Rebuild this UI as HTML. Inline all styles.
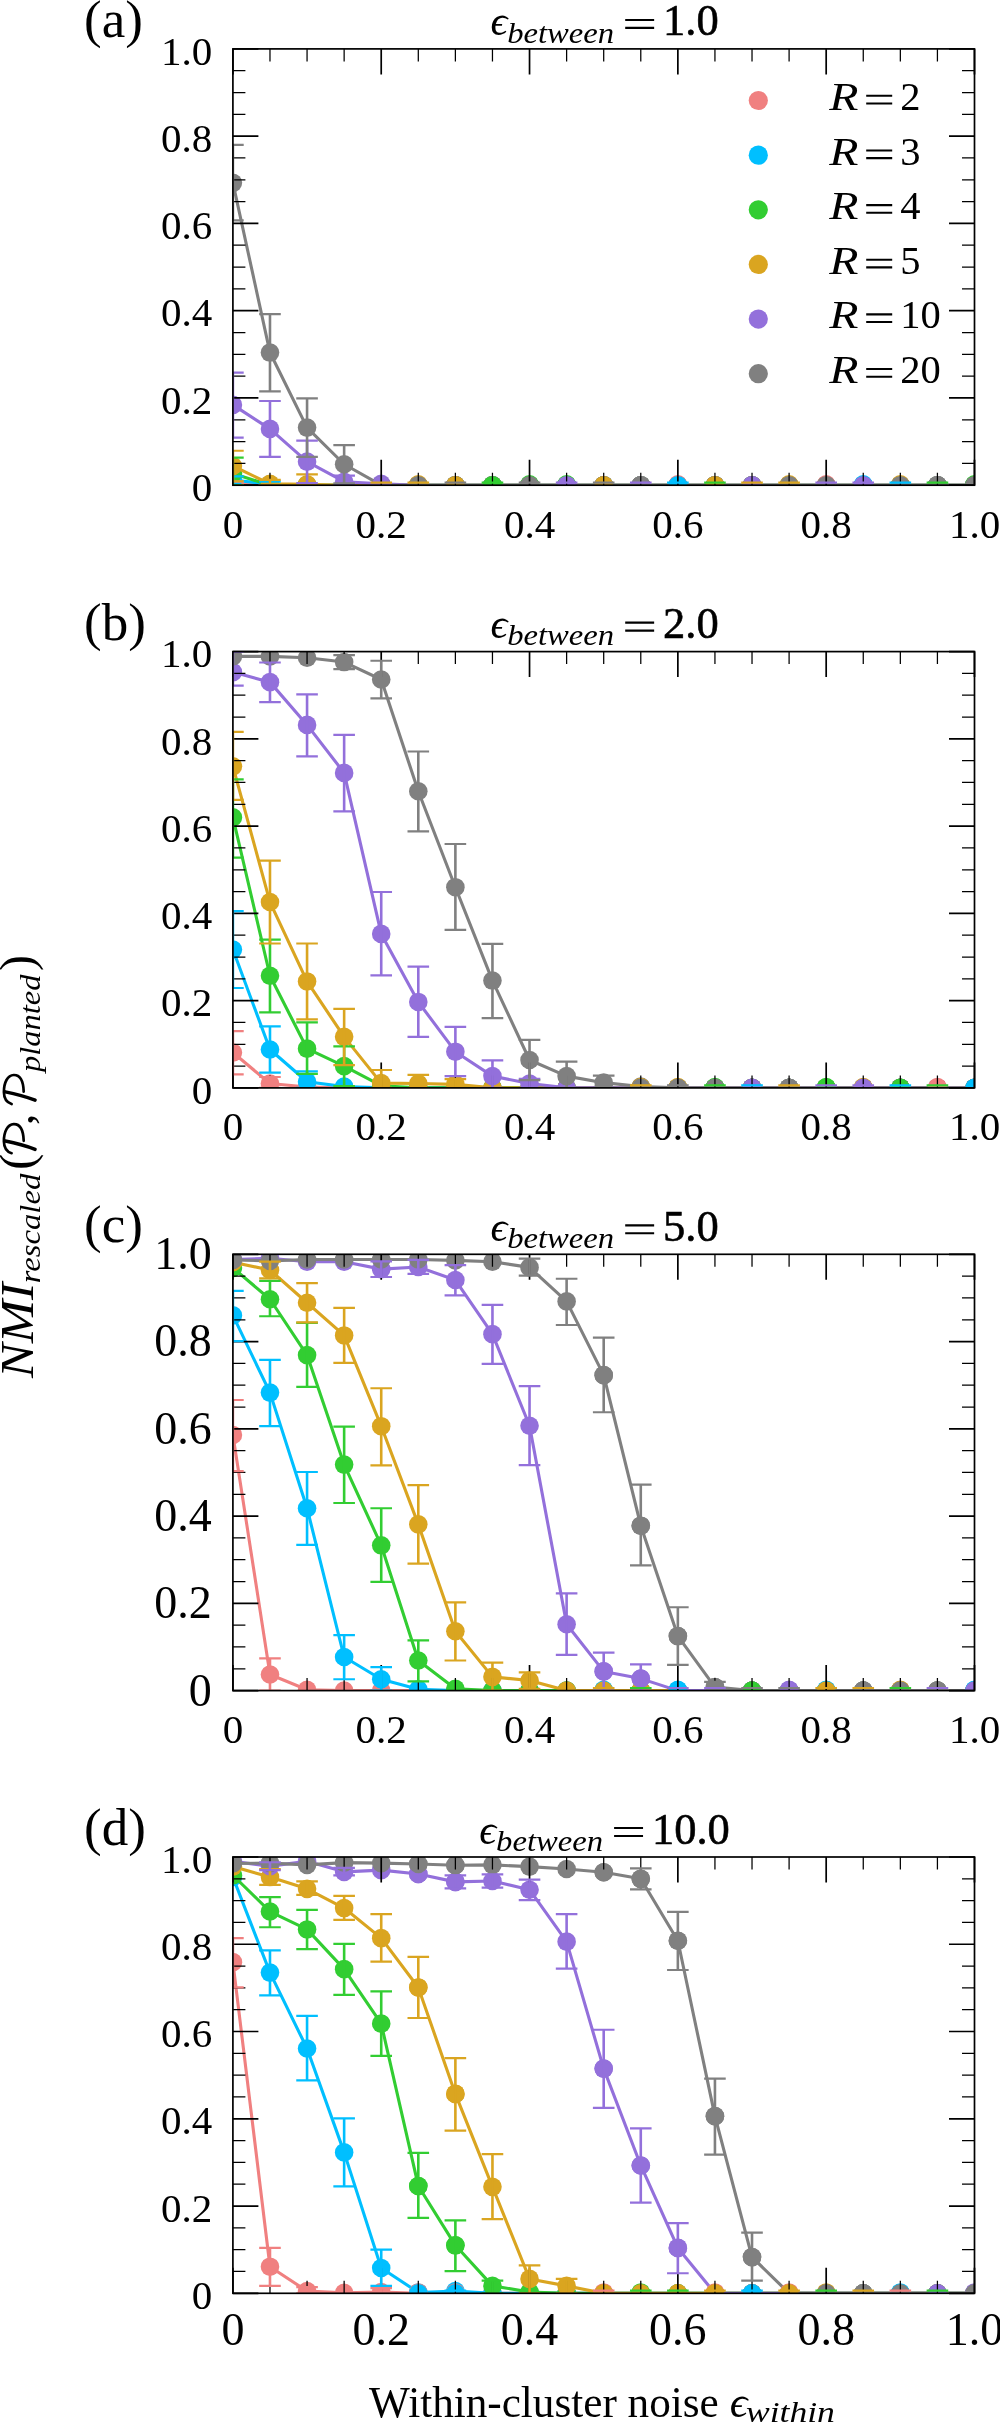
<!DOCTYPE html><html><head><meta charset="utf-8"><style>html,body{margin:0;padding:0;background:#fff;width:1000px;height:2424px;overflow:hidden}svg{display:block;will-change:transform}</style></head><body>
<svg width="1000" height="2424" viewBox="0 0 1000 2424">
<rect width="1000" height="2424" fill="#fff"/>
<defs><clipPath id="c0"><rect x="232.9" y="48.9" width="741.6" height="436.3"/></clipPath></defs>
<g clip-path="url(#c0)">
<polyline points="232.9,483.89 269.98,485.2 307.06,485.2 344.14,485.2 381.22,485.2 418.3,485.2 455.38,485.2 492.46,485.2 529.54,485.2 566.62,485.2 603.7,485.2 640.78,485.2 677.86,485.2 714.94,485.2 752.02,485.2 789.1,485.2 826.18,485.2 863.26,485.2 900.34,485.2 937.42,485.2 974.5,485.2" fill="none" stroke="#F08080" stroke-width="3.1" stroke-linejoin="round"/>
<g fill="#F08080"><circle cx="232.9" cy="483.89" r="9.3"/><circle cx="269.98" cy="485.2" r="9.3"/><circle cx="307.06" cy="485.2" r="9.3"/><circle cx="344.14" cy="485.2" r="9.3"/><circle cx="381.22" cy="485.2" r="9.3"/><circle cx="418.3" cy="485.2" r="9.3"/><circle cx="455.38" cy="485.2" r="9.3"/><circle cx="492.46" cy="485.2" r="9.3"/><circle cx="529.54" cy="485.2" r="9.3"/><circle cx="566.62" cy="485.2" r="9.3"/><circle cx="603.7" cy="485.2" r="9.3"/><circle cx="640.78" cy="485.2" r="9.3"/><circle cx="677.86" cy="485.2" r="9.3"/><circle cx="714.94" cy="485.2" r="9.3"/><circle cx="752.02" cy="485.2" r="9.3"/><circle cx="789.1" cy="485.2" r="9.3"/><circle cx="826.18" cy="485.2" r="9.3"/><circle cx="863.26" cy="485.2" r="9.3"/><circle cx="900.34" cy="485.2" r="9.3"/><circle cx="937.42" cy="485.2" r="9.3"/><circle cx="974.5" cy="485.2" r="9.3"/></g>
<polyline points="232.9,479.96 269.98,484.33 307.06,485.2 344.14,485.2 381.22,485.2 418.3,485.2 455.38,485.2 492.46,485.2 529.54,485.2 566.62,485.2 603.7,485.2 640.78,485.2 677.86,485.2 714.94,485.2 752.02,485.2 789.1,485.2 826.18,485.2 863.26,485.2 900.34,485.2 937.42,485.2 974.5,485.2" fill="none" stroke="#00BFFF" stroke-width="3.1" stroke-linejoin="round"/>
<g fill="#00BFFF"><circle cx="232.9" cy="479.96" r="9.3"/><circle cx="269.98" cy="484.33" r="9.3"/><circle cx="307.06" cy="485.2" r="9.3"/><circle cx="344.14" cy="485.2" r="9.3"/><circle cx="381.22" cy="485.2" r="9.3"/><circle cx="418.3" cy="485.2" r="9.3"/><circle cx="455.38" cy="485.2" r="9.3"/><circle cx="492.46" cy="485.2" r="9.3"/><circle cx="529.54" cy="485.2" r="9.3"/><circle cx="566.62" cy="485.2" r="9.3"/><circle cx="603.7" cy="485.2" r="9.3"/><circle cx="640.78" cy="485.2" r="9.3"/><circle cx="677.86" cy="485.2" r="9.3"/><circle cx="714.94" cy="485.2" r="9.3"/><circle cx="752.02" cy="485.2" r="9.3"/><circle cx="789.1" cy="485.2" r="9.3"/><circle cx="826.18" cy="485.2" r="9.3"/><circle cx="863.26" cy="485.2" r="9.3"/><circle cx="900.34" cy="485.2" r="9.3"/><circle cx="937.42" cy="485.2" r="9.3"/><circle cx="974.5" cy="485.2" r="9.3"/></g>
<polyline points="232.9,473.42 269.98,485.2 307.06,485.2 344.14,485.2 381.22,485.2 418.3,485.2 455.38,485.2 492.46,485.2 529.54,485.2 566.62,485.2 603.7,485.2 640.78,485.2 677.86,485.2 714.94,485.2 752.02,485.2 789.1,485.2 826.18,485.2 863.26,485.2 900.34,485.2 937.42,485.2 974.5,485.2" fill="none" stroke="#32CD32" stroke-width="3.1" stroke-linejoin="round"/>
<g fill="#32CD32"><circle cx="232.9" cy="473.42" r="9.3"/><circle cx="269.98" cy="485.2" r="9.3"/><circle cx="307.06" cy="485.2" r="9.3"/><circle cx="344.14" cy="485.2" r="9.3"/><circle cx="381.22" cy="485.2" r="9.3"/><circle cx="418.3" cy="485.2" r="9.3"/><circle cx="455.38" cy="485.2" r="9.3"/><circle cx="492.46" cy="485.2" r="9.3"/><circle cx="529.54" cy="485.2" r="9.3"/><circle cx="566.62" cy="485.2" r="9.3"/><circle cx="603.7" cy="485.2" r="9.3"/><circle cx="640.78" cy="485.2" r="9.3"/><circle cx="677.86" cy="485.2" r="9.3"/><circle cx="714.94" cy="485.2" r="9.3"/><circle cx="752.02" cy="485.2" r="9.3"/><circle cx="789.1" cy="485.2" r="9.3"/><circle cx="826.18" cy="485.2" r="9.3"/><circle cx="863.26" cy="485.2" r="9.3"/><circle cx="900.34" cy="485.2" r="9.3"/><circle cx="937.42" cy="485.2" r="9.3"/><circle cx="974.5" cy="485.2" r="9.3"/></g>
<polyline points="232.9,466 269.98,483.89 307.06,484.33 344.14,485.2 381.22,485.2 418.3,485.2 455.38,485.2 492.46,485.2 529.54,485.2 566.62,485.2 603.7,485.2 640.78,485.2 677.86,485.2 714.94,485.2 752.02,485.2 789.1,485.2 826.18,485.2 863.26,485.2 900.34,485.2 937.42,485.2 974.5,485.2" fill="none" stroke="#DAA520" stroke-width="3.1" stroke-linejoin="round"/>
<g fill="#DAA520"><circle cx="232.9" cy="466" r="9.3"/><circle cx="269.98" cy="483.89" r="9.3"/><circle cx="307.06" cy="484.33" r="9.3"/><circle cx="344.14" cy="485.2" r="9.3"/><circle cx="381.22" cy="485.2" r="9.3"/><circle cx="418.3" cy="485.2" r="9.3"/><circle cx="455.38" cy="485.2" r="9.3"/><circle cx="492.46" cy="485.2" r="9.3"/><circle cx="529.54" cy="485.2" r="9.3"/><circle cx="566.62" cy="485.2" r="9.3"/><circle cx="603.7" cy="485.2" r="9.3"/><circle cx="640.78" cy="485.2" r="9.3"/><circle cx="677.86" cy="485.2" r="9.3"/><circle cx="714.94" cy="485.2" r="9.3"/><circle cx="752.02" cy="485.2" r="9.3"/><circle cx="789.1" cy="485.2" r="9.3"/><circle cx="826.18" cy="485.2" r="9.3"/><circle cx="863.26" cy="485.2" r="9.3"/><circle cx="900.34" cy="485.2" r="9.3"/><circle cx="937.42" cy="485.2" r="9.3"/><circle cx="974.5" cy="485.2" r="9.3"/></g>
<polyline points="232.9,404.92 269.98,428.92 307.06,461.64 344.14,481.71 381.22,483.89 418.3,485.2 455.38,485.2 492.46,485.2 529.54,485.2 566.62,485.2 603.7,485.2 640.78,485.2 677.86,485.2 714.94,485.2 752.02,485.2 789.1,485.2 826.18,485.2 863.26,485.2 900.34,485.2 937.42,485.2 974.5,485.2" fill="none" stroke="#9370DB" stroke-width="3.1" stroke-linejoin="round"/>
<g fill="#9370DB"><circle cx="232.9" cy="404.92" r="9.3"/><circle cx="269.98" cy="428.92" r="9.3"/><circle cx="307.06" cy="461.64" r="9.3"/><circle cx="344.14" cy="481.71" r="9.3"/><circle cx="381.22" cy="483.89" r="9.3"/><circle cx="418.3" cy="485.2" r="9.3"/><circle cx="455.38" cy="485.2" r="9.3"/><circle cx="492.46" cy="485.2" r="9.3"/><circle cx="529.54" cy="485.2" r="9.3"/><circle cx="566.62" cy="485.2" r="9.3"/><circle cx="603.7" cy="485.2" r="9.3"/><circle cx="640.78" cy="485.2" r="9.3"/><circle cx="677.86" cy="485.2" r="9.3"/><circle cx="714.94" cy="485.2" r="9.3"/><circle cx="752.02" cy="485.2" r="9.3"/><circle cx="789.1" cy="485.2" r="9.3"/><circle cx="826.18" cy="485.2" r="9.3"/><circle cx="863.26" cy="485.2" r="9.3"/><circle cx="900.34" cy="485.2" r="9.3"/><circle cx="937.42" cy="485.2" r="9.3"/><circle cx="974.5" cy="485.2" r="9.3"/></g>
<polyline points="232.9,182.84 269.98,352.56 307.06,427.61 344.14,464.26 381.22,485.2 418.3,485.2 455.38,485.2 492.46,485.2 529.54,485.2 566.62,485.2 603.7,485.2 640.78,485.2 677.86,485.2 714.94,485.2 752.02,485.2 789.1,485.2 826.18,485.2 863.26,485.2 900.34,485.2 937.42,485.2 974.5,485.2" fill="none" stroke="#808080" stroke-width="3.1" stroke-linejoin="round"/>
<g fill="#808080"><circle cx="232.9" cy="182.84" r="9.3"/><circle cx="269.98" cy="352.56" r="9.3"/><circle cx="307.06" cy="427.61" r="9.3"/><circle cx="344.14" cy="464.26" r="9.3"/><circle cx="381.22" cy="485.2" r="9.3"/><circle cx="418.3" cy="485.2" r="9.3"/><circle cx="455.38" cy="485.2" r="9.3"/><circle cx="492.46" cy="485.2" r="9.3"/><circle cx="529.54" cy="485.2" r="9.3"/><circle cx="566.62" cy="485.2" r="9.3"/><circle cx="603.7" cy="485.2" r="9.3"/><circle cx="640.78" cy="485.2" r="9.3"/><circle cx="677.86" cy="485.2" r="9.3"/><circle cx="714.94" cy="485.2" r="9.3"/><circle cx="752.02" cy="485.2" r="9.3"/><circle cx="789.1" cy="485.2" r="9.3"/><circle cx="826.18" cy="485.2" r="9.3"/><circle cx="863.26" cy="485.2" r="9.3"/><circle cx="900.34" cy="485.2" r="9.3"/><circle cx="937.42" cy="485.2" r="9.3"/><circle cx="974.5" cy="485.2" r="9.3"/></g>
<circle cx="381.22" cy="485.2" r="9.3" fill="#9370DB"/>
<circle cx="418.3" cy="484.33" r="9.3" fill="#DAA520"/>
<circle cx="418.3" cy="485.2" r="9.3" fill="#808080"/>
<circle cx="455.38" cy="485.2" r="9.3" fill="#DAA520"/>
<circle cx="492.46" cy="485.2" r="9.3" fill="#32CD32"/>
<circle cx="529.54" cy="484.33" r="9.3" fill="#32CD32"/>
<circle cx="529.54" cy="485.2" r="9.3" fill="#808080"/>
<circle cx="566.62" cy="484.33" r="9.3" fill="#32CD32"/>
<circle cx="566.62" cy="485.2" r="9.3" fill="#9370DB"/>
<circle cx="603.7" cy="485.2" r="9.3" fill="#DAA520"/>
<circle cx="640.78" cy="485.2" r="9.3" fill="#808080"/>
<circle cx="677.86" cy="484.33" r="9.3" fill="#F08080"/>
<circle cx="677.86" cy="485.2" r="9.3" fill="#00BFFF"/>
<circle cx="714.94" cy="485.2" r="9.3" fill="#DAA520"/>
<circle cx="752.02" cy="485.2" r="9.3" fill="#9370DB"/>
<circle cx="789.1" cy="484.33" r="9.3" fill="#DAA520"/>
<circle cx="789.1" cy="485.2" r="9.3" fill="#808080"/>
<circle cx="826.18" cy="484.33" r="9.3" fill="#F08080"/>
<circle cx="826.18" cy="485.2" r="9.3" fill="#808080"/>
<circle cx="863.26" cy="484.33" r="9.3" fill="#00BFFF"/>
<circle cx="863.26" cy="485.2" r="9.3" fill="#9370DB"/>
<circle cx="900.34" cy="484.33" r="9.3" fill="#DAA520"/>
<circle cx="900.34" cy="485.2" r="9.3" fill="#808080"/>
<circle cx="937.42" cy="485.2" r="9.3" fill="#808080"/>
<circle cx="974.5" cy="484.33" r="9.3" fill="#32CD32"/>
<circle cx="974.5" cy="485.2" r="9.3" fill="#808080"/>
</g>
<path d="M232.9 485.2v-25.5M232.9 48.9v25.5M232.9 485.2h25.5M974.5 485.2h-25.5M381.22 485.2v-25.5M381.22 48.9v25.5M232.9 397.94h25.5M974.5 397.94h-25.5M529.54 485.2v-25.5M529.54 48.9v25.5M232.9 310.68h25.5M974.5 310.68h-25.5M677.86 485.2v-25.5M677.86 48.9v25.5M232.9 223.42h25.5M974.5 223.42h-25.5M826.18 485.2v-25.5M826.18 48.9v25.5M232.9 136.16h25.5M974.5 136.16h-25.5M974.5 485.2v-25.5M974.5 48.9v25.5M232.9 48.9h25.5M974.5 48.9h-25.5" stroke="#000" stroke-width="1.7" fill="none"/>
<path d="M269.98 485.2v-12.5M269.98 48.9v12.5M232.9 463.38h12.5M974.5 463.38h-12.5M307.06 485.2v-12.5M307.06 48.9v12.5M232.9 441.57h12.5M974.5 441.57h-12.5M344.14 485.2v-12.5M344.14 48.9v12.5M232.9 419.75h12.5M974.5 419.75h-12.5M418.3 485.2v-12.5M418.3 48.9v12.5M232.9 376.12h12.5M974.5 376.12h-12.5M455.38 485.2v-12.5M455.38 48.9v12.5M232.9 354.31h12.5M974.5 354.31h-12.5M492.46 485.2v-12.5M492.46 48.9v12.5M232.9 332.5h12.5M974.5 332.5h-12.5M566.62 485.2v-12.5M566.62 48.9v12.5M232.9 288.87h12.5M974.5 288.87h-12.5M603.7 485.2v-12.5M603.7 48.9v12.5M232.9 267.05h12.5M974.5 267.05h-12.5M640.78 485.2v-12.5M640.78 48.9v12.5M232.9 245.23h12.5M974.5 245.23h-12.5M714.94 485.2v-12.5M714.94 48.9v12.5M232.9 201.6h12.5M974.5 201.6h-12.5M752.02 485.2v-12.5M752.02 48.9v12.5M232.9 179.79h12.5M974.5 179.79h-12.5M789.1 485.2v-12.5M789.1 48.9v12.5M232.9 157.97h12.5M974.5 157.97h-12.5M863.26 485.2v-12.5M863.26 48.9v12.5M232.9 114.34h12.5M974.5 114.34h-12.5M900.34 485.2v-12.5M900.34 48.9v12.5M232.9 92.53h12.5M974.5 92.53h-12.5M937.42 485.2v-12.5M937.42 48.9v12.5M232.9 70.71h12.5M974.5 70.71h-12.5" stroke="#000" stroke-width="1.25" fill="none"/>
<g clip-path="url(#c0)">
<path d="M232.9 485.2V481.71" stroke="#F08080" stroke-width="2.6" fill="none"/>
<path d="M222.1 481.71H243.7M222.1 485.2H243.7" stroke="#F08080" stroke-width="2.2" fill="none"/>
<path d="M232.9 485.2V476.47M269.98 485.2V481.71" stroke="#00BFFF" stroke-width="2.6" fill="none"/>
<path d="M222.1 476.47H243.7M222.1 485.2H243.7M259.18 481.71H280.78M259.18 485.2H280.78" stroke="#00BFFF" stroke-width="2.2" fill="none"/>
<path d="M232.9 485.2V457.71" stroke="#32CD32" stroke-width="2.6" fill="none"/>
<path d="M222.1 457.71H243.7M222.1 485.2H243.7" stroke="#32CD32" stroke-width="2.2" fill="none"/>
<path d="M232.9 481.27V450.73M269.98 485.2V479.96M307.06 485.2V474.29" stroke="#DAA520" stroke-width="2.6" fill="none"/>
<path d="M222.1 450.73H243.7M222.1 481.27H243.7M259.18 479.96H280.78M259.18 485.2H280.78M296.26 474.29H317.86M296.26 485.2H317.86" stroke="#DAA520" stroke-width="2.2" fill="none"/>
<path d="M232.9 437.64V372.63M269.98 456.84V400.99M307.06 483.02V440.7M344.14 485.2V475.6" stroke="#9370DB" stroke-width="2.6" fill="none"/>
<path d="M222.1 372.63H243.7M222.1 437.64H243.7M259.18 400.99H280.78M259.18 456.84H280.78M296.26 440.7H317.86M296.26 483.02H317.86M333.34 475.6H354.94M333.34 485.2H354.94" stroke="#9370DB" stroke-width="2.2" fill="none"/>
<path d="M232.9 220.37V144.89M269.98 391.4V314.17M307.06 456.84V398.38M344.14 483.45V445.06" stroke="#808080" stroke-width="2.6" fill="none"/>
<path d="M222.1 144.89H243.7M222.1 220.37H243.7M259.18 314.17H280.78M259.18 391.4H280.78M296.26 398.38H317.86M296.26 456.84H317.86M333.34 445.06H354.94M333.34 483.45H354.94" stroke="#808080" stroke-width="2.2" fill="none"/>
<path d="M370.42 482.58H392.02" stroke="#DAA520" stroke-width="2.2"/>
<path d="M407.5 482.58H429.1" stroke="#DAA520" stroke-width="2.2"/>
<path d="M444.58 482.58H466.18" stroke="#808080" stroke-width="2.2"/>
<path d="M481.66 482.58H503.26" stroke="#32CD32" stroke-width="2.2"/>
<path d="M518.74 482.58H540.34" stroke="#808080" stroke-width="2.2"/>
<path d="M555.82 482.58H577.42" stroke="#9370DB" stroke-width="2.2"/>
<path d="M592.9 482.58H614.5" stroke="#808080" stroke-width="2.2"/>
<path d="M629.98 482.58H651.58" stroke="#9370DB" stroke-width="2.2"/>
<path d="M667.06 482.58H688.66" stroke="#00BFFF" stroke-width="2.2"/>
<path d="M704.14 482.58H725.74" stroke="#32CD32" stroke-width="2.2"/>
<path d="M741.22 482.58H762.82" stroke="#DAA520" stroke-width="2.2"/>
<path d="M778.3 482.58H799.9" stroke="#DAA520" stroke-width="2.2"/>
<path d="M815.38 482.58H836.98" stroke="#9370DB" stroke-width="2.2"/>
<path d="M852.46 482.58H874.06" stroke="#9370DB" stroke-width="2.2"/>
<path d="M889.54 482.58H911.14" stroke="#00BFFF" stroke-width="2.2"/>
<path d="M926.62 482.58H948.22" stroke="#32CD32" stroke-width="2.2"/>
</g>
<rect x="232.9" y="48.9" width="741.6" height="436.3" fill="none" stroke="#000" stroke-width="1.7"/>
<g font-family="Liberation Serif"><text x="232.9" y="537.7" text-anchor="middle" font-size="41">0</text><text x="212.2" y="500.9" text-anchor="end" font-size="41">0</text><text x="381.22" y="537.7" text-anchor="middle" font-size="41">0.2</text><text x="212.2" y="413.64" text-anchor="end" font-size="41">0.2</text><text x="529.54" y="537.7" text-anchor="middle" font-size="41">0.4</text><text x="212.2" y="326.38" text-anchor="end" font-size="41">0.4</text><text x="677.86" y="537.7" text-anchor="middle" font-size="41">0.6</text><text x="212.2" y="239.12" text-anchor="end" font-size="41">0.6</text><text x="826.18" y="537.7" text-anchor="middle" font-size="41">0.8</text><text x="212.2" y="151.86" text-anchor="end" font-size="41">0.8</text><text x="974.5" y="537.7" text-anchor="middle" font-size="41">1.0</text><text x="212.2" y="64.6" text-anchor="end" font-size="41">1.0</text></g>
<text x="84" y="36.9" font-family="Liberation Serif" font-size="53">(a)</text>
<text x="490.4" y="35.4" font-family="Liberation Serif" font-size="42" font-style="italic">&#x3F5;</text>
<text x="507.2" y="42.5" font-family="Liberation Serif" font-size="30" font-style="italic" textLength="107" lengthAdjust="spacingAndGlyphs">between</text>
<path d="M625.2 19.95H654.15M625.2 27.9H654.15" stroke="#000" stroke-width="2.1"/>
<text x="663" y="35.4" font-family="Liberation Serif" font-size="44.5" stroke="#000" stroke-width="0.6">1.0</text>
<defs><clipPath id="c1"><rect x="232.9" y="651.6" width="741.6" height="436.3"/></clipPath></defs>
<g clip-path="url(#c1)">
<polyline points="232.9,1052.56 269.98,1083.54 307.06,1087.03 344.14,1087.9 381.22,1087.9 418.3,1087.9 455.38,1087.9 492.46,1087.9 529.54,1087.9 566.62,1087.9 603.7,1087.9 640.78,1087.9 677.86,1087.9 714.94,1087.9 752.02,1087.9 789.1,1087.9 826.18,1087.9 863.26,1087.9 900.34,1087.9 937.42,1087.9 974.5,1087.9" fill="none" stroke="#F08080" stroke-width="3.1" stroke-linejoin="round"/>
<g fill="#F08080"><circle cx="232.9" cy="1052.56" r="9.3"/><circle cx="269.98" cy="1083.54" r="9.3"/><circle cx="307.06" cy="1087.03" r="9.3"/><circle cx="344.14" cy="1087.9" r="9.3"/><circle cx="381.22" cy="1087.9" r="9.3"/><circle cx="418.3" cy="1087.9" r="9.3"/><circle cx="455.38" cy="1087.9" r="9.3"/><circle cx="492.46" cy="1087.9" r="9.3"/><circle cx="529.54" cy="1087.9" r="9.3"/><circle cx="566.62" cy="1087.9" r="9.3"/><circle cx="603.7" cy="1087.9" r="9.3"/><circle cx="640.78" cy="1087.9" r="9.3"/><circle cx="677.86" cy="1087.9" r="9.3"/><circle cx="714.94" cy="1087.9" r="9.3"/><circle cx="752.02" cy="1087.9" r="9.3"/><circle cx="789.1" cy="1087.9" r="9.3"/><circle cx="826.18" cy="1087.9" r="9.3"/><circle cx="863.26" cy="1087.9" r="9.3"/><circle cx="900.34" cy="1087.9" r="9.3"/><circle cx="937.42" cy="1087.9" r="9.3"/><circle cx="974.5" cy="1087.9" r="9.3"/></g>
<polyline points="232.9,949.59 269.98,1049.51 307.06,1081.79 344.14,1086.59 381.22,1087.9 418.3,1087.9 455.38,1087.9 492.46,1087.9 529.54,1087.9 566.62,1087.9 603.7,1087.9 640.78,1087.9 677.86,1087.9 714.94,1087.9 752.02,1087.9 789.1,1087.9 826.18,1087.9 863.26,1087.9 900.34,1087.9 937.42,1087.9 974.5,1087.9" fill="none" stroke="#00BFFF" stroke-width="3.1" stroke-linejoin="round"/>
<g fill="#00BFFF"><circle cx="232.9" cy="949.59" r="9.3"/><circle cx="269.98" cy="1049.51" r="9.3"/><circle cx="307.06" cy="1081.79" r="9.3"/><circle cx="344.14" cy="1086.59" r="9.3"/><circle cx="381.22" cy="1087.9" r="9.3"/><circle cx="418.3" cy="1087.9" r="9.3"/><circle cx="455.38" cy="1087.9" r="9.3"/><circle cx="492.46" cy="1087.9" r="9.3"/><circle cx="529.54" cy="1087.9" r="9.3"/><circle cx="566.62" cy="1087.9" r="9.3"/><circle cx="603.7" cy="1087.9" r="9.3"/><circle cx="640.78" cy="1087.9" r="9.3"/><circle cx="677.86" cy="1087.9" r="9.3"/><circle cx="714.94" cy="1087.9" r="9.3"/><circle cx="752.02" cy="1087.9" r="9.3"/><circle cx="789.1" cy="1087.9" r="9.3"/><circle cx="826.18" cy="1087.9" r="9.3"/><circle cx="863.26" cy="1087.9" r="9.3"/><circle cx="900.34" cy="1087.9" r="9.3"/><circle cx="937.42" cy="1087.9" r="9.3"/><circle cx="974.5" cy="1087.9" r="9.3"/></g>
<polyline points="232.9,817.39 269.98,975.77 307.06,1048.63 344.14,1066.09 381.22,1085.72 418.3,1087.9 455.38,1087.9 492.46,1087.9 529.54,1087.9 566.62,1087.9 603.7,1087.9 640.78,1087.9 677.86,1087.9 714.94,1087.9 752.02,1087.9 789.1,1087.9 826.18,1087.9 863.26,1087.9 900.34,1087.9 937.42,1087.9 974.5,1087.9" fill="none" stroke="#32CD32" stroke-width="3.1" stroke-linejoin="round"/>
<g fill="#32CD32"><circle cx="232.9" cy="817.39" r="9.3"/><circle cx="269.98" cy="975.77" r="9.3"/><circle cx="307.06" cy="1048.63" r="9.3"/><circle cx="344.14" cy="1066.09" r="9.3"/><circle cx="381.22" cy="1085.72" r="9.3"/><circle cx="418.3" cy="1087.9" r="9.3"/><circle cx="455.38" cy="1087.9" r="9.3"/><circle cx="492.46" cy="1087.9" r="9.3"/><circle cx="529.54" cy="1087.9" r="9.3"/><circle cx="566.62" cy="1087.9" r="9.3"/><circle cx="603.7" cy="1087.9" r="9.3"/><circle cx="640.78" cy="1087.9" r="9.3"/><circle cx="677.86" cy="1087.9" r="9.3"/><circle cx="714.94" cy="1087.9" r="9.3"/><circle cx="752.02" cy="1087.9" r="9.3"/><circle cx="789.1" cy="1087.9" r="9.3"/><circle cx="826.18" cy="1087.9" r="9.3"/><circle cx="863.26" cy="1087.9" r="9.3"/><circle cx="900.34" cy="1087.9" r="9.3"/><circle cx="937.42" cy="1087.9" r="9.3"/><circle cx="974.5" cy="1087.9" r="9.3"/></g>
<polyline points="232.9,766.35 269.98,902.04 307.06,981.44 344.14,1036.85 381.22,1083.1 418.3,1083.54 455.38,1084.41 492.46,1087.9 529.54,1087.9 566.62,1087.9 603.7,1087.9 640.78,1087.9 677.86,1087.9 714.94,1087.9 752.02,1087.9 789.1,1087.9 826.18,1087.9 863.26,1087.9 900.34,1087.9 937.42,1087.9 974.5,1087.9" fill="none" stroke="#DAA520" stroke-width="3.1" stroke-linejoin="round"/>
<g fill="#DAA520"><circle cx="232.9" cy="766.35" r="9.3"/><circle cx="269.98" cy="902.04" r="9.3"/><circle cx="307.06" cy="981.44" r="9.3"/><circle cx="344.14" cy="1036.85" r="9.3"/><circle cx="381.22" cy="1083.1" r="9.3"/><circle cx="418.3" cy="1083.54" r="9.3"/><circle cx="455.38" cy="1084.41" r="9.3"/><circle cx="492.46" cy="1087.9" r="9.3"/><circle cx="529.54" cy="1087.9" r="9.3"/><circle cx="566.62" cy="1087.9" r="9.3"/><circle cx="603.7" cy="1087.9" r="9.3"/><circle cx="640.78" cy="1087.9" r="9.3"/><circle cx="677.86" cy="1087.9" r="9.3"/><circle cx="714.94" cy="1087.9" r="9.3"/><circle cx="752.02" cy="1087.9" r="9.3"/><circle cx="789.1" cy="1087.9" r="9.3"/><circle cx="826.18" cy="1087.9" r="9.3"/><circle cx="863.26" cy="1087.9" r="9.3"/><circle cx="900.34" cy="1087.9" r="9.3"/><circle cx="937.42" cy="1087.9" r="9.3"/><circle cx="974.5" cy="1087.9" r="9.3"/></g>
<polyline points="232.9,672.11 269.98,682.14 307.06,724.9 344.14,772.89 381.22,933.89 418.3,1001.95 455.38,1051.69 492.46,1076.12 529.54,1083.54 566.62,1087.9 603.7,1087.9 640.78,1087.9 677.86,1087.9 714.94,1087.9 752.02,1087.9 789.1,1087.9 826.18,1087.9 863.26,1087.9 900.34,1087.9 937.42,1087.9 974.5,1087.9" fill="none" stroke="#9370DB" stroke-width="3.1" stroke-linejoin="round"/>
<g fill="#9370DB"><circle cx="232.9" cy="672.11" r="9.3"/><circle cx="269.98" cy="682.14" r="9.3"/><circle cx="307.06" cy="724.9" r="9.3"/><circle cx="344.14" cy="772.89" r="9.3"/><circle cx="381.22" cy="933.89" r="9.3"/><circle cx="418.3" cy="1001.95" r="9.3"/><circle cx="455.38" cy="1051.69" r="9.3"/><circle cx="492.46" cy="1076.12" r="9.3"/><circle cx="529.54" cy="1083.54" r="9.3"/><circle cx="566.62" cy="1087.9" r="9.3"/><circle cx="603.7" cy="1087.9" r="9.3"/><circle cx="640.78" cy="1087.9" r="9.3"/><circle cx="677.86" cy="1087.9" r="9.3"/><circle cx="714.94" cy="1087.9" r="9.3"/><circle cx="752.02" cy="1087.9" r="9.3"/><circle cx="789.1" cy="1087.9" r="9.3"/><circle cx="826.18" cy="1087.9" r="9.3"/><circle cx="863.26" cy="1087.9" r="9.3"/><circle cx="900.34" cy="1087.9" r="9.3"/><circle cx="937.42" cy="1087.9" r="9.3"/><circle cx="974.5" cy="1087.9" r="9.3"/></g>
<polyline points="232.9,656.4 269.98,656.4 307.06,657.71 344.14,662.07 381.22,679.52 418.3,791.22 455.38,887.2 492.46,980.57 529.54,1059.98 566.62,1076.12 603.7,1082.66 640.78,1086.59 677.86,1087.9 714.94,1087.9 752.02,1087.9 789.1,1087.9 826.18,1087.9 863.26,1087.9 900.34,1087.9 937.42,1087.9 974.5,1087.9" fill="none" stroke="#808080" stroke-width="3.1" stroke-linejoin="round"/>
<g fill="#808080"><circle cx="232.9" cy="656.4" r="9.3"/><circle cx="269.98" cy="656.4" r="9.3"/><circle cx="307.06" cy="657.71" r="9.3"/><circle cx="344.14" cy="662.07" r="9.3"/><circle cx="381.22" cy="679.52" r="9.3"/><circle cx="418.3" cy="791.22" r="9.3"/><circle cx="455.38" cy="887.2" r="9.3"/><circle cx="492.46" cy="980.57" r="9.3"/><circle cx="529.54" cy="1059.98" r="9.3"/><circle cx="566.62" cy="1076.12" r="9.3"/><circle cx="603.7" cy="1082.66" r="9.3"/><circle cx="640.78" cy="1086.59" r="9.3"/><circle cx="677.86" cy="1087.9" r="9.3"/><circle cx="714.94" cy="1087.9" r="9.3"/><circle cx="752.02" cy="1087.9" r="9.3"/><circle cx="789.1" cy="1087.9" r="9.3"/><circle cx="826.18" cy="1087.9" r="9.3"/><circle cx="863.26" cy="1087.9" r="9.3"/><circle cx="900.34" cy="1087.9" r="9.3"/><circle cx="937.42" cy="1087.9" r="9.3"/><circle cx="974.5" cy="1087.9" r="9.3"/></g>
<circle cx="640.78" cy="1087.03" r="9.3" fill="#DAA520"/>
<circle cx="640.78" cy="1087.9" r="9.3" fill="#808080"/>
<circle cx="677.86" cy="1087.03" r="9.3" fill="#DAA520"/>
<circle cx="677.86" cy="1087.9" r="9.3" fill="#808080"/>
<circle cx="714.94" cy="1087.03" r="9.3" fill="#32CD32"/>
<circle cx="714.94" cy="1087.9" r="9.3" fill="#808080"/>
<circle cx="752.02" cy="1087.9" r="9.3" fill="#9370DB"/>
<circle cx="789.1" cy="1087.9" r="9.3" fill="#808080"/>
<circle cx="826.18" cy="1087.03" r="9.3" fill="#32CD32"/>
<circle cx="826.18" cy="1087.9" r="9.3" fill="#32CD32"/>
<circle cx="863.26" cy="1087.03" r="9.3" fill="#DAA520"/>
<circle cx="863.26" cy="1087.9" r="9.3" fill="#9370DB"/>
<circle cx="900.34" cy="1087.9" r="9.3" fill="#32CD32"/>
<circle cx="937.42" cy="1087.03" r="9.3" fill="#F08080"/>
<circle cx="937.42" cy="1087.9" r="9.3" fill="#F08080"/>
<circle cx="974.5" cy="1087.9" r="9.3" fill="#00BFFF"/>
</g>
<path d="M232.9 1087.9v-25.5M232.9 651.6v25.5M232.9 1087.9h25.5M974.5 1087.9h-25.5M381.22 1087.9v-25.5M381.22 651.6v25.5M232.9 1000.64h25.5M974.5 1000.64h-25.5M529.54 1087.9v-25.5M529.54 651.6v25.5M232.9 913.38h25.5M974.5 913.38h-25.5M677.86 1087.9v-25.5M677.86 651.6v25.5M232.9 826.12h25.5M974.5 826.12h-25.5M826.18 1087.9v-25.5M826.18 651.6v25.5M232.9 738.86h25.5M974.5 738.86h-25.5M974.5 1087.9v-25.5M974.5 651.6v25.5M232.9 651.6h25.5M974.5 651.6h-25.5" stroke="#000" stroke-width="1.7" fill="none"/>
<path d="M269.98 1087.9v-12.5M269.98 651.6v12.5M232.9 1066.09h12.5M974.5 1066.09h-12.5M307.06 1087.9v-12.5M307.06 651.6v12.5M232.9 1044.27h12.5M974.5 1044.27h-12.5M344.14 1087.9v-12.5M344.14 651.6v12.5M232.9 1022.46h12.5M974.5 1022.46h-12.5M418.3 1087.9v-12.5M418.3 651.6v12.5M232.9 978.83h12.5M974.5 978.83h-12.5M455.38 1087.9v-12.5M455.38 651.6v12.5M232.9 957.01h12.5M974.5 957.01h-12.5M492.46 1087.9v-12.5M492.46 651.6v12.5M232.9 935.2h12.5M974.5 935.2h-12.5M566.62 1087.9v-12.5M566.62 651.6v12.5M232.9 891.57h12.5M974.5 891.57h-12.5M603.7 1087.9v-12.5M603.7 651.6v12.5M232.9 869.75h12.5M974.5 869.75h-12.5M640.78 1087.9v-12.5M640.78 651.6v12.5M232.9 847.94h12.5M974.5 847.94h-12.5M714.94 1087.9v-12.5M714.94 651.6v12.5M232.9 804.31h12.5M974.5 804.31h-12.5M752.02 1087.9v-12.5M752.02 651.6v12.5M232.9 782.49h12.5M974.5 782.49h-12.5M789.1 1087.9v-12.5M789.1 651.6v12.5M232.9 760.68h12.5M974.5 760.68h-12.5M863.26 1087.9v-12.5M863.26 651.6v12.5M232.9 717.05h12.5M974.5 717.05h-12.5M900.34 1087.9v-12.5M900.34 651.6v12.5M232.9 695.23h12.5M974.5 695.23h-12.5M937.42 1087.9v-12.5M937.42 651.6v12.5M232.9 673.42h12.5M974.5 673.42h-12.5" stroke="#000" stroke-width="1.25" fill="none"/>
<g clip-path="url(#c1)">
<path d="M232.9 1074.37V1031.18M269.98 1087.9V1076.99" stroke="#F08080" stroke-width="2.6" fill="none"/>
<path d="M222.1 1031.18H243.7M222.1 1074.37H243.7M259.18 1076.99H280.78M259.18 1087.9H280.78" stroke="#F08080" stroke-width="2.2" fill="none"/>
<path d="M232.9 987.99V911.2M269.98 1072.63V1026.38M307.06 1087.9V1071.32" stroke="#00BFFF" stroke-width="2.6" fill="none"/>
<path d="M222.1 911.2H243.7M222.1 987.99H243.7M259.18 1026.38H280.78M259.18 1072.63H280.78M296.26 1071.32H317.86M296.26 1087.9H317.86" stroke="#00BFFF" stroke-width="2.2" fill="none"/>
<path d="M232.9 857.53V779.44M269.98 1012.42V939.56M307.06 1073.94V1022.46M344.14 1086.15V1046.45" stroke="#32CD32" stroke-width="2.6" fill="none"/>
<path d="M222.1 779.44H243.7M222.1 857.53H243.7M259.18 939.56H280.78M259.18 1012.42H280.78M296.26 1022.46H317.86M296.26 1073.94H317.86M333.34 1046.45H354.94M333.34 1086.15H354.94" stroke="#32CD32" stroke-width="2.2" fill="none"/>
<path d="M232.9 799.94V731.88M269.98 943.48V860.59M307.06 1019.4V943.48M344.14 1065.21V1008.93M381.22 1087.9V1070.01M418.3 1087.9V1074.81M455.38 1087.9V1079.17" stroke="#DAA520" stroke-width="2.6" fill="none"/>
<path d="M222.1 731.88H243.7M222.1 799.94H243.7M259.18 860.59H280.78M259.18 943.48H280.78M296.26 943.48H317.86M296.26 1019.4H317.86M333.34 1008.93H354.94M333.34 1065.21H354.94M370.42 1070.01H392.02M370.42 1087.9H392.02M407.5 1074.81H429.1M407.5 1087.9H429.1M444.58 1079.17H466.18M444.58 1087.9H466.18" stroke="#DAA520" stroke-width="2.2" fill="none"/>
<path d="M232.9 685.63V651.6M269.98 702.21V662.51M307.06 756.31V694.36M344.14 811.29V734.93M381.22 975.33V892M418.3 1036.85V966.61M455.38 1076.12V1026.82M492.46 1087.9V1060.41M529.54 1087.9V1078.74" stroke="#9370DB" stroke-width="2.6" fill="none"/>
<path d="M222.1 651.6H243.7M222.1 685.63H243.7M259.18 662.51H280.78M259.18 702.21H280.78M296.26 694.36H317.86M296.26 756.31H317.86M333.34 734.93H354.94M333.34 811.29H354.94M370.42 892H392.02M370.42 975.33H392.02M407.5 966.61H429.1M407.5 1036.85H429.1M444.58 1026.82H466.18M444.58 1076.12H466.18M481.66 1060.41H503.26M481.66 1087.9H503.26M518.74 1078.74H540.34M518.74 1087.9H540.34" stroke="#9370DB" stroke-width="2.2" fill="none"/>
<path d="M344.14 669.05V655.09M381.22 698.28V660.76M418.3 831.36V751.51M455.38 929.96V844.01M492.46 1018.09V943.92M529.54 1080.05V1039.91M566.62 1087.9V1061.72M603.7 1087.9V1075.68" stroke="#808080" stroke-width="2.6" fill="none"/>
<path d="M333.34 655.09H354.94M333.34 669.05H354.94M370.42 660.76H392.02M370.42 698.28H392.02M407.5 751.51H429.1M407.5 831.36H429.1M444.58 844.01H466.18M444.58 929.96H466.18M481.66 943.92H503.26M481.66 1018.09H503.26M518.74 1039.91H540.34M518.74 1080.05H540.34M555.82 1061.72H577.42M555.82 1087.9H577.42M592.9 1075.68H614.5M592.9 1087.9H614.5" stroke="#808080" stroke-width="2.2" fill="none"/>
<path d="M629.98 1085.28H651.58" stroke="#DAA520" stroke-width="2.2"/>
<path d="M667.06 1085.28H688.66" stroke="#808080" stroke-width="2.2"/>
<path d="M704.14 1085.28H725.74" stroke="#32CD32" stroke-width="2.2"/>
<path d="M741.22 1085.28H762.82" stroke="#00BFFF" stroke-width="2.2"/>
<path d="M778.3 1085.28H799.9" stroke="#DAA520" stroke-width="2.2"/>
<path d="M815.38 1085.28H836.98" stroke="#9370DB" stroke-width="2.2"/>
<path d="M852.46 1085.28H874.06" stroke="#9370DB" stroke-width="2.2"/>
<path d="M889.54 1085.28H911.14" stroke="#00BFFF" stroke-width="2.2"/>
<path d="M926.62 1085.28H948.22" stroke="#32CD32" stroke-width="2.2"/>
</g>
<rect x="232.9" y="651.6" width="741.6" height="436.3" fill="none" stroke="#000" stroke-width="1.7"/>
<g font-family="Liberation Serif"><text x="232.9" y="1140.4" text-anchor="middle" font-size="41">0</text><text x="212.2" y="1103.6" text-anchor="end" font-size="41">0</text><text x="381.22" y="1140.4" text-anchor="middle" font-size="41">0.2</text><text x="212.2" y="1016.34" text-anchor="end" font-size="41">0.2</text><text x="529.54" y="1140.4" text-anchor="middle" font-size="41">0.4</text><text x="212.2" y="929.08" text-anchor="end" font-size="41">0.4</text><text x="677.86" y="1140.4" text-anchor="middle" font-size="41">0.6</text><text x="212.2" y="841.82" text-anchor="end" font-size="41">0.6</text><text x="826.18" y="1140.4" text-anchor="middle" font-size="41">0.8</text><text x="212.2" y="754.56" text-anchor="end" font-size="41">0.8</text><text x="974.5" y="1140.4" text-anchor="middle" font-size="41">1.0</text><text x="212.2" y="667.3" text-anchor="end" font-size="41">1.0</text></g>
<text x="84" y="639.6" font-family="Liberation Serif" font-size="53">(b)</text>
<text x="490.4" y="638.1" font-family="Liberation Serif" font-size="42" font-style="italic">&#x3F5;</text>
<text x="507.2" y="645.2" font-family="Liberation Serif" font-size="30" font-style="italic" textLength="107" lengthAdjust="spacingAndGlyphs">between</text>
<path d="M625.2 622.65H654.15M625.2 630.6H654.15" stroke="#000" stroke-width="2.1"/>
<text x="663" y="638.1" font-family="Liberation Serif" font-size="44.5" stroke="#000" stroke-width="0.6">2.0</text>
<defs><clipPath id="c2"><rect x="232.9" y="1254.3" width="741.6" height="436.3"/></clipPath></defs>
<g clip-path="url(#c2)">
<polyline points="232.9,1434.93 269.98,1674.46 307.06,1689.73 344.14,1690.6 381.22,1690.6 418.3,1690.6 455.38,1690.6 492.46,1690.6 529.54,1690.6 566.62,1690.6 603.7,1690.6 640.78,1690.6 677.86,1690.6 714.94,1690.6 752.02,1690.6 789.1,1690.6 826.18,1690.6 863.26,1690.6 900.34,1690.6 937.42,1690.6 974.5,1690.6" fill="none" stroke="#F08080" stroke-width="3.1" stroke-linejoin="round"/>
<g fill="#F08080"><circle cx="232.9" cy="1434.93" r="9.3"/><circle cx="269.98" cy="1674.46" r="9.3"/><circle cx="307.06" cy="1689.73" r="9.3"/><circle cx="344.14" cy="1690.6" r="9.3"/><circle cx="381.22" cy="1690.6" r="9.3"/><circle cx="418.3" cy="1690.6" r="9.3"/><circle cx="455.38" cy="1690.6" r="9.3"/><circle cx="492.46" cy="1690.6" r="9.3"/><circle cx="529.54" cy="1690.6" r="9.3"/><circle cx="566.62" cy="1690.6" r="9.3"/><circle cx="603.7" cy="1690.6" r="9.3"/><circle cx="640.78" cy="1690.6" r="9.3"/><circle cx="677.86" cy="1690.6" r="9.3"/><circle cx="714.94" cy="1690.6" r="9.3"/><circle cx="752.02" cy="1690.6" r="9.3"/><circle cx="789.1" cy="1690.6" r="9.3"/><circle cx="826.18" cy="1690.6" r="9.3"/><circle cx="863.26" cy="1690.6" r="9.3"/><circle cx="900.34" cy="1690.6" r="9.3"/><circle cx="937.42" cy="1690.6" r="9.3"/><circle cx="974.5" cy="1690.6" r="9.3"/></g>
<polyline points="232.9,1315.38 269.98,1392.61 307.06,1508.23 344.14,1657 381.22,1679.26 418.3,1689.29 455.38,1690.6 492.46,1690.6 529.54,1690.6 566.62,1690.6 603.7,1690.6 640.78,1690.6 677.86,1690.6 714.94,1690.6 752.02,1690.6 789.1,1690.6 826.18,1690.6 863.26,1690.6 900.34,1690.6 937.42,1690.6 974.5,1690.6" fill="none" stroke="#00BFFF" stroke-width="3.1" stroke-linejoin="round"/>
<g fill="#00BFFF"><circle cx="232.9" cy="1315.38" r="9.3"/><circle cx="269.98" cy="1392.61" r="9.3"/><circle cx="307.06" cy="1508.23" r="9.3"/><circle cx="344.14" cy="1657" r="9.3"/><circle cx="381.22" cy="1679.26" r="9.3"/><circle cx="418.3" cy="1689.29" r="9.3"/><circle cx="455.38" cy="1690.6" r="9.3"/><circle cx="492.46" cy="1690.6" r="9.3"/><circle cx="529.54" cy="1690.6" r="9.3"/><circle cx="566.62" cy="1690.6" r="9.3"/><circle cx="603.7" cy="1690.6" r="9.3"/><circle cx="640.78" cy="1690.6" r="9.3"/><circle cx="677.86" cy="1690.6" r="9.3"/><circle cx="714.94" cy="1690.6" r="9.3"/><circle cx="752.02" cy="1690.6" r="9.3"/><circle cx="789.1" cy="1690.6" r="9.3"/><circle cx="826.18" cy="1690.6" r="9.3"/><circle cx="863.26" cy="1690.6" r="9.3"/><circle cx="900.34" cy="1690.6" r="9.3"/><circle cx="937.42" cy="1690.6" r="9.3"/><circle cx="974.5" cy="1690.6" r="9.3"/></g>
<polyline points="232.9,1267.83 269.98,1299.24 307.06,1355.09 344.14,1464.6 381.22,1545.31 418.3,1660.5 455.38,1688.85 492.46,1690.6 529.54,1690.6 566.62,1690.6 603.7,1690.6 640.78,1690.6 677.86,1690.6 714.94,1690.6 752.02,1690.6 789.1,1690.6 826.18,1690.6 863.26,1690.6 900.34,1690.6 937.42,1690.6 974.5,1690.6" fill="none" stroke="#32CD32" stroke-width="3.1" stroke-linejoin="round"/>
<g fill="#32CD32"><circle cx="232.9" cy="1267.83" r="9.3"/><circle cx="269.98" cy="1299.24" r="9.3"/><circle cx="307.06" cy="1355.09" r="9.3"/><circle cx="344.14" cy="1464.6" r="9.3"/><circle cx="381.22" cy="1545.31" r="9.3"/><circle cx="418.3" cy="1660.5" r="9.3"/><circle cx="455.38" cy="1688.85" r="9.3"/><circle cx="492.46" cy="1690.6" r="9.3"/><circle cx="529.54" cy="1690.6" r="9.3"/><circle cx="566.62" cy="1690.6" r="9.3"/><circle cx="603.7" cy="1690.6" r="9.3"/><circle cx="640.78" cy="1690.6" r="9.3"/><circle cx="677.86" cy="1690.6" r="9.3"/><circle cx="714.94" cy="1690.6" r="9.3"/><circle cx="752.02" cy="1690.6" r="9.3"/><circle cx="789.1" cy="1690.6" r="9.3"/><circle cx="826.18" cy="1690.6" r="9.3"/><circle cx="863.26" cy="1690.6" r="9.3"/><circle cx="900.34" cy="1690.6" r="9.3"/><circle cx="937.42" cy="1690.6" r="9.3"/><circle cx="974.5" cy="1690.6" r="9.3"/></g>
<polyline points="232.9,1262.15 269.98,1270.01 307.06,1302.73 344.14,1335.45 381.22,1426.2 418.3,1524.37 455.38,1631.26 492.46,1676.86 529.54,1680.57 566.62,1690.6 603.7,1690.6 640.78,1690.6 677.86,1690.6 714.94,1690.6 752.02,1690.6 789.1,1690.6 826.18,1690.6 863.26,1690.6 900.34,1690.6 937.42,1690.6 974.5,1690.6" fill="none" stroke="#DAA520" stroke-width="3.1" stroke-linejoin="round"/>
<g fill="#DAA520"><circle cx="232.9" cy="1262.15" r="9.3"/><circle cx="269.98" cy="1270.01" r="9.3"/><circle cx="307.06" cy="1302.73" r="9.3"/><circle cx="344.14" cy="1335.45" r="9.3"/><circle cx="381.22" cy="1426.2" r="9.3"/><circle cx="418.3" cy="1524.37" r="9.3"/><circle cx="455.38" cy="1631.26" r="9.3"/><circle cx="492.46" cy="1676.86" r="9.3"/><circle cx="529.54" cy="1680.57" r="9.3"/><circle cx="566.62" cy="1690.6" r="9.3"/><circle cx="603.7" cy="1690.6" r="9.3"/><circle cx="640.78" cy="1690.6" r="9.3"/><circle cx="677.86" cy="1690.6" r="9.3"/><circle cx="714.94" cy="1690.6" r="9.3"/><circle cx="752.02" cy="1690.6" r="9.3"/><circle cx="789.1" cy="1690.6" r="9.3"/><circle cx="826.18" cy="1690.6" r="9.3"/><circle cx="863.26" cy="1690.6" r="9.3"/><circle cx="900.34" cy="1690.6" r="9.3"/><circle cx="937.42" cy="1690.6" r="9.3"/><circle cx="974.5" cy="1690.6" r="9.3"/></g>
<polyline points="232.9,1259.54 269.98,1258.23 307.06,1261.72 344.14,1261.72 381.22,1269.13 418.3,1266.95 455.38,1280.04 492.46,1334.14 529.54,1425.77 566.62,1624.28 603.7,1671.4 640.78,1678.6 677.86,1690.6 714.94,1690.6 752.02,1690.6 789.1,1690.6 826.18,1690.6 863.26,1690.6 900.34,1690.6 937.42,1690.6 974.5,1690.6" fill="none" stroke="#9370DB" stroke-width="3.1" stroke-linejoin="round"/>
<g fill="#9370DB"><circle cx="232.9" cy="1259.54" r="9.3"/><circle cx="269.98" cy="1258.23" r="9.3"/><circle cx="307.06" cy="1261.72" r="9.3"/><circle cx="344.14" cy="1261.72" r="9.3"/><circle cx="381.22" cy="1269.13" r="9.3"/><circle cx="418.3" cy="1266.95" r="9.3"/><circle cx="455.38" cy="1280.04" r="9.3"/><circle cx="492.46" cy="1334.14" r="9.3"/><circle cx="529.54" cy="1425.77" r="9.3"/><circle cx="566.62" cy="1624.28" r="9.3"/><circle cx="603.7" cy="1671.4" r="9.3"/><circle cx="640.78" cy="1678.6" r="9.3"/><circle cx="677.86" cy="1690.6" r="9.3"/><circle cx="714.94" cy="1690.6" r="9.3"/><circle cx="752.02" cy="1690.6" r="9.3"/><circle cx="789.1" cy="1690.6" r="9.3"/><circle cx="826.18" cy="1690.6" r="9.3"/><circle cx="863.26" cy="1690.6" r="9.3"/><circle cx="900.34" cy="1690.6" r="9.3"/><circle cx="937.42" cy="1690.6" r="9.3"/><circle cx="974.5" cy="1690.6" r="9.3"/></g>
<polyline points="232.9,1259.97 269.98,1260.84 307.06,1259.54 344.14,1259.54 381.22,1259.54 418.3,1259.54 455.38,1260.41 492.46,1261.72 529.54,1267.39 566.62,1301.42 603.7,1375.16 640.78,1525.68 677.86,1636.06 714.94,1687.11 752.02,1690.6 789.1,1690.6 826.18,1690.6 863.26,1690.6 900.34,1690.6 937.42,1690.6 974.5,1690.6" fill="none" stroke="#808080" stroke-width="3.1" stroke-linejoin="round"/>
<g fill="#808080"><circle cx="232.9" cy="1259.97" r="9.3"/><circle cx="269.98" cy="1260.84" r="9.3"/><circle cx="307.06" cy="1259.54" r="9.3"/><circle cx="344.14" cy="1259.54" r="9.3"/><circle cx="381.22" cy="1259.54" r="9.3"/><circle cx="418.3" cy="1259.54" r="9.3"/><circle cx="455.38" cy="1260.41" r="9.3"/><circle cx="492.46" cy="1261.72" r="9.3"/><circle cx="529.54" cy="1267.39" r="9.3"/><circle cx="566.62" cy="1301.42" r="9.3"/><circle cx="603.7" cy="1375.16" r="9.3"/><circle cx="640.78" cy="1525.68" r="9.3"/><circle cx="677.86" cy="1636.06" r="9.3"/><circle cx="714.94" cy="1687.11" r="9.3"/><circle cx="752.02" cy="1690.6" r="9.3"/><circle cx="789.1" cy="1690.6" r="9.3"/><circle cx="826.18" cy="1690.6" r="9.3"/><circle cx="863.26" cy="1690.6" r="9.3"/><circle cx="900.34" cy="1690.6" r="9.3"/><circle cx="937.42" cy="1690.6" r="9.3"/><circle cx="974.5" cy="1690.6" r="9.3"/></g>
<circle cx="603.7" cy="1689.73" r="9.3" fill="#00BFFF"/>
<circle cx="603.7" cy="1690.6" r="9.3" fill="#DAA520"/>
<circle cx="603.7" cy="1671.4" r="9.3" fill="#9370DB"/>
<circle cx="603.7" cy="1375.16" r="9.3" fill="#808080"/>
<circle cx="640.78" cy="1690.6" r="9.3" fill="#DAA520"/>
<circle cx="640.78" cy="1678.6" r="9.3" fill="#9370DB"/>
<circle cx="640.78" cy="1525.68" r="9.3" fill="#808080"/>
<circle cx="677.86" cy="1689.73" r="9.3" fill="#00BFFF"/>
<circle cx="677.86" cy="1690.6" r="9.3" fill="#00BFFF"/>
<circle cx="677.86" cy="1636.06" r="9.3" fill="#808080"/>
<circle cx="714.94" cy="1687.11" r="9.3" fill="#808080"/>
<circle cx="752.02" cy="1690.6" r="9.3" fill="#32CD32"/>
<circle cx="789.1" cy="1689.73" r="9.3" fill="#9370DB"/>
<circle cx="789.1" cy="1690.6" r="9.3" fill="#9370DB"/>
<circle cx="826.18" cy="1689.73" r="9.3" fill="#00BFFF"/>
<circle cx="826.18" cy="1690.6" r="9.3" fill="#DAA520"/>
<circle cx="863.26" cy="1690.6" r="9.3" fill="#808080"/>
<circle cx="900.34" cy="1689.73" r="9.3" fill="#DAA520"/>
<circle cx="900.34" cy="1690.6" r="9.3" fill="#808080"/>
<circle cx="937.42" cy="1690.6" r="9.3" fill="#808080"/>
<circle cx="974.5" cy="1689.73" r="9.3" fill="#00BFFF"/>
<circle cx="974.5" cy="1690.6" r="9.3" fill="#9370DB"/>
</g>
<path d="M232.9 1690.6v-25.5M232.9 1254.3v25.5M232.9 1690.6h25.5M974.5 1690.6h-25.5M381.22 1690.6v-25.5M381.22 1254.3v25.5M232.9 1603.34h25.5M974.5 1603.34h-25.5M529.54 1690.6v-25.5M529.54 1254.3v25.5M232.9 1516.08h25.5M974.5 1516.08h-25.5M677.86 1690.6v-25.5M677.86 1254.3v25.5M232.9 1428.82h25.5M974.5 1428.82h-25.5M826.18 1690.6v-25.5M826.18 1254.3v25.5M232.9 1341.56h25.5M974.5 1341.56h-25.5M974.5 1690.6v-25.5M974.5 1254.3v25.5M232.9 1254.3h25.5M974.5 1254.3h-25.5" stroke="#000" stroke-width="1.7" fill="none"/>
<path d="M269.98 1690.6v-12.5M269.98 1254.3v12.5M232.9 1668.79h12.5M974.5 1668.79h-12.5M307.06 1690.6v-12.5M307.06 1254.3v12.5M232.9 1646.97h12.5M974.5 1646.97h-12.5M344.14 1690.6v-12.5M344.14 1254.3v12.5M232.9 1625.16h12.5M974.5 1625.16h-12.5M418.3 1690.6v-12.5M418.3 1254.3v12.5M232.9 1581.53h12.5M974.5 1581.53h-12.5M455.38 1690.6v-12.5M455.38 1254.3v12.5M232.9 1559.71h12.5M974.5 1559.71h-12.5M492.46 1690.6v-12.5M492.46 1254.3v12.5M232.9 1537.9h12.5M974.5 1537.9h-12.5M566.62 1690.6v-12.5M566.62 1254.3v12.5M232.9 1494.27h12.5M974.5 1494.27h-12.5M603.7 1690.6v-12.5M603.7 1254.3v12.5M232.9 1472.45h12.5M974.5 1472.45h-12.5M640.78 1690.6v-12.5M640.78 1254.3v12.5M232.9 1450.64h12.5M974.5 1450.64h-12.5M714.94 1690.6v-12.5M714.94 1254.3v12.5M232.9 1407.01h12.5M974.5 1407.01h-12.5M752.02 1690.6v-12.5M752.02 1254.3v12.5M232.9 1385.19h12.5M974.5 1385.19h-12.5M789.1 1690.6v-12.5M789.1 1254.3v12.5M232.9 1363.38h12.5M974.5 1363.38h-12.5M863.26 1690.6v-12.5M863.26 1254.3v12.5M232.9 1319.75h12.5M974.5 1319.75h-12.5M900.34 1690.6v-12.5M900.34 1254.3v12.5M232.9 1297.93h12.5M974.5 1297.93h-12.5M937.42 1690.6v-12.5M937.42 1254.3v12.5M232.9 1276.12h12.5M974.5 1276.12h-12.5" stroke="#000" stroke-width="1.25" fill="none"/>
<g clip-path="url(#c2)">
<path d="M232.9 1471.14V1400.02M269.98 1690.6V1658.31" stroke="#F08080" stroke-width="2.6" fill="none"/>
<path d="M222.1 1400.02H243.7M222.1 1471.14H243.7M259.18 1658.31H280.78M259.18 1690.6H280.78" stroke="#F08080" stroke-width="2.2" fill="none"/>
<path d="M232.9 1341.12V1290.95M269.98 1426.2V1359.88M307.06 1544.88V1472.01M344.14 1679.26V1635.19M381.22 1690.6V1667.04" stroke="#00BFFF" stroke-width="2.6" fill="none"/>
<path d="M222.1 1290.95H243.7M222.1 1341.12H243.7M259.18 1359.88H280.78M259.18 1426.2H280.78M296.26 1472.01H317.86M296.26 1544.88H317.86M333.34 1635.19H354.94M333.34 1679.26H354.94M370.42 1667.04H392.02M370.42 1690.6H392.02" stroke="#00BFFF" stroke-width="2.2" fill="none"/>
<path d="M269.98 1316.25V1280.91M307.06 1386.94V1322.8M344.14 1502.99V1426.64M381.22 1581.96V1508.23M418.3 1681.44V1640.43" stroke="#32CD32" stroke-width="2.6" fill="none"/>
<path d="M259.18 1280.91H280.78M259.18 1316.25H280.78M296.26 1322.8H317.86M296.26 1386.94H317.86M333.34 1426.64H354.94M333.34 1502.99H354.94M370.42 1508.23H392.02M370.42 1581.96H392.02M407.5 1640.43H429.1M407.5 1681.44H429.1" stroke="#32CD32" stroke-width="2.2" fill="none"/>
<path d="M269.98 1278.3V1261.72M307.06 1322.36V1283.1M344.14 1362.94V1307.96M381.22 1465.47V1388.24M418.3 1563.64V1485.1M455.38 1660.5V1602.47M492.46 1690.6V1662.68M529.54 1688.85V1672.28" stroke="#DAA520" stroke-width="2.6" fill="none"/>
<path d="M259.18 1261.72H280.78M259.18 1278.3H280.78M296.26 1283.1H317.86M296.26 1322.36H317.86M333.34 1307.96H354.94M333.34 1362.94H354.94M370.42 1388.24H392.02M370.42 1465.47H392.02M407.5 1485.1H429.1M407.5 1563.64H429.1M444.58 1602.47H466.18M444.58 1660.5H466.18M481.66 1662.68H503.26M481.66 1690.6H503.26M518.74 1672.28H540.34M518.74 1688.85H540.34" stroke="#DAA520" stroke-width="2.2" fill="none"/>
<path d="M381.22 1276.99V1261.28M418.3 1273.93V1259.97M455.38 1295.31V1265.21M492.46 1363.81V1304.91M529.54 1465.03V1386.06M566.62 1654.82V1593.31M603.7 1690.6V1652.64M640.78 1690.6V1664.42" stroke="#9370DB" stroke-width="2.6" fill="none"/>
<path d="M370.42 1261.28H392.02M370.42 1276.99H392.02M407.5 1259.97H429.1M407.5 1273.93H429.1M444.58 1265.21H466.18M444.58 1295.31H466.18M481.66 1304.91H503.26M481.66 1363.81H503.26M518.74 1386.06H540.34M518.74 1465.03H540.34M555.82 1593.31H577.42M555.82 1654.82H577.42M592.9 1652.64H614.5M592.9 1690.6H614.5M629.98 1664.42H651.58M629.98 1690.6H651.58" stroke="#9370DB" stroke-width="2.2" fill="none"/>
<path d="M529.54 1275.68V1258.66M566.62 1324.98V1278.73M603.7 1412.24V1337.63M640.78 1565.38V1484.67M677.86 1664.86V1607.27M714.94 1690.6V1681.87" stroke="#808080" stroke-width="2.6" fill="none"/>
<path d="M518.74 1258.66H540.34M518.74 1275.68H540.34M555.82 1278.73H577.42M555.82 1324.98H577.42M592.9 1337.63H614.5M592.9 1412.24H614.5M629.98 1484.67H651.58M629.98 1565.38H651.58M667.06 1607.27H688.66M667.06 1664.86H688.66M704.14 1681.87H725.74M704.14 1690.6H725.74" stroke="#808080" stroke-width="2.2" fill="none"/>
<path d="M592.9 1687.98H614.5" stroke="#DAA520" stroke-width="2.2"/>
<path d="M629.98 1687.98H651.58" stroke="#32CD32" stroke-width="2.2"/>
<path d="M667.06 1687.98H688.66" stroke="#9370DB" stroke-width="2.2"/>
<path d="M704.14 1687.98H725.74" stroke="#9370DB" stroke-width="2.2"/>
<path d="M741.22 1687.98H762.82" stroke="#808080" stroke-width="2.2"/>
<path d="M778.3 1687.98H799.9" stroke="#808080" stroke-width="2.2"/>
<path d="M815.38 1687.98H836.98" stroke="#DAA520" stroke-width="2.2"/>
<path d="M852.46 1687.98H874.06" stroke="#DAA520" stroke-width="2.2"/>
<path d="M889.54 1687.98H911.14" stroke="#32CD32" stroke-width="2.2"/>
<path d="M926.62 1687.98H948.22" stroke="#9370DB" stroke-width="2.2"/>
</g>
<rect x="232.9" y="1254.3" width="741.6" height="436.3" fill="none" stroke="#000" stroke-width="1.7"/>
<g font-family="Liberation Serif"><text x="232.9" y="1743.1" text-anchor="middle" font-size="41">0</text><text x="211.8" y="1705.5" text-anchor="end" font-size="46">0</text><text x="381.22" y="1743.1" text-anchor="middle" font-size="41">0.2</text><text x="211.8" y="1618.24" text-anchor="end" font-size="46">0.2</text><text x="529.54" y="1743.1" text-anchor="middle" font-size="41">0.4</text><text x="211.8" y="1530.98" text-anchor="end" font-size="46">0.4</text><text x="677.86" y="1743.1" text-anchor="middle" font-size="41">0.6</text><text x="211.8" y="1443.72" text-anchor="end" font-size="46">0.6</text><text x="826.18" y="1743.1" text-anchor="middle" font-size="41">0.8</text><text x="211.8" y="1356.46" text-anchor="end" font-size="46">0.8</text><text x="974.5" y="1743.1" text-anchor="middle" font-size="41">1.0</text><text x="211.8" y="1269.2" text-anchor="end" font-size="46">1.0</text></g>
<text x="84" y="1242.3" font-family="Liberation Serif" font-size="53">(c)</text>
<text x="490.4" y="1240.8" font-family="Liberation Serif" font-size="42" font-style="italic">&#x3F5;</text>
<text x="507.2" y="1247.9" font-family="Liberation Serif" font-size="30" font-style="italic" textLength="107" lengthAdjust="spacingAndGlyphs">between</text>
<path d="M625.2 1225.35H654.15M625.2 1233.3H654.15" stroke="#000" stroke-width="2.1"/>
<text x="663" y="1240.8" font-family="Liberation Serif" font-size="44.5" stroke="#000" stroke-width="0.6">5.0</text>
<defs><clipPath id="c3"><rect x="232.9" y="1857" width="741.6" height="436.3"/></clipPath></defs>
<g clip-path="url(#c3)">
<polyline points="232.9,1962.15 269.98,2266.69 307.06,2291.12 344.14,2292.86 381.22,2291.99 418.3,2293.3 455.38,2293.3 492.46,2293.3 529.54,2293.3 566.62,2293.3 603.7,2293.3 640.78,2293.3 677.86,2293.3 714.94,2293.3 752.02,2293.3 789.1,2293.3 826.18,2293.3 863.26,2293.3 900.34,2293.3 937.42,2293.3 974.5,2293.3" fill="none" stroke="#F08080" stroke-width="3.1" stroke-linejoin="round"/>
<g fill="#F08080"><circle cx="232.9" cy="1962.15" r="9.3"/><circle cx="269.98" cy="2266.69" r="9.3"/><circle cx="307.06" cy="2291.12" r="9.3"/><circle cx="344.14" cy="2292.86" r="9.3"/><circle cx="381.22" cy="2291.99" r="9.3"/><circle cx="418.3" cy="2293.3" r="9.3"/><circle cx="455.38" cy="2293.3" r="9.3"/><circle cx="492.46" cy="2293.3" r="9.3"/><circle cx="529.54" cy="2293.3" r="9.3"/><circle cx="566.62" cy="2293.3" r="9.3"/><circle cx="603.7" cy="2293.3" r="9.3"/><circle cx="640.78" cy="2293.3" r="9.3"/><circle cx="677.86" cy="2293.3" r="9.3"/><circle cx="714.94" cy="2293.3" r="9.3"/><circle cx="752.02" cy="2293.3" r="9.3"/><circle cx="789.1" cy="2293.3" r="9.3"/><circle cx="826.18" cy="2293.3" r="9.3"/><circle cx="863.26" cy="2293.3" r="9.3"/><circle cx="900.34" cy="2293.3" r="9.3"/><circle cx="937.42" cy="2293.3" r="9.3"/><circle cx="974.5" cy="2293.3" r="9.3"/></g>
<polyline points="232.9,1877.07 269.98,1972.62 307.06,2048.54 344.14,2152.38 381.22,2267.99 418.3,2292.43 455.38,2291.12 492.46,2293.3 529.54,2293.3 566.62,2293.3 603.7,2293.3 640.78,2293.3 677.86,2293.3 714.94,2293.3 752.02,2293.3 789.1,2293.3 826.18,2293.3 863.26,2293.3 900.34,2293.3 937.42,2293.3 974.5,2293.3" fill="none" stroke="#00BFFF" stroke-width="3.1" stroke-linejoin="round"/>
<g fill="#00BFFF"><circle cx="232.9" cy="1877.07" r="9.3"/><circle cx="269.98" cy="1972.62" r="9.3"/><circle cx="307.06" cy="2048.54" r="9.3"/><circle cx="344.14" cy="2152.38" r="9.3"/><circle cx="381.22" cy="2267.99" r="9.3"/><circle cx="418.3" cy="2292.43" r="9.3"/><circle cx="455.38" cy="2291.12" r="9.3"/><circle cx="492.46" cy="2293.3" r="9.3"/><circle cx="529.54" cy="2293.3" r="9.3"/><circle cx="566.62" cy="2293.3" r="9.3"/><circle cx="603.7" cy="2293.3" r="9.3"/><circle cx="640.78" cy="2293.3" r="9.3"/><circle cx="677.86" cy="2293.3" r="9.3"/><circle cx="714.94" cy="2293.3" r="9.3"/><circle cx="752.02" cy="2293.3" r="9.3"/><circle cx="789.1" cy="2293.3" r="9.3"/><circle cx="826.18" cy="2293.3" r="9.3"/><circle cx="863.26" cy="2293.3" r="9.3"/><circle cx="900.34" cy="2293.3" r="9.3"/><circle cx="937.42" cy="2293.3" r="9.3"/><circle cx="974.5" cy="2293.3" r="9.3"/></g>
<polyline points="232.9,1875.32 269.98,1911.54 307.06,1929.43 344.14,1969.13 381.22,2023.67 418.3,2185.97 455.38,2245.31 492.46,2285.88 529.54,2291.99 566.62,2293.3 603.7,2293.3 640.78,2293.3 677.86,2293.3 714.94,2293.3 752.02,2293.3 789.1,2293.3 826.18,2293.3 863.26,2293.3 900.34,2293.3 937.42,2293.3 974.5,2293.3" fill="none" stroke="#32CD32" stroke-width="3.1" stroke-linejoin="round"/>
<g fill="#32CD32"><circle cx="232.9" cy="1875.32" r="9.3"/><circle cx="269.98" cy="1911.54" r="9.3"/><circle cx="307.06" cy="1929.43" r="9.3"/><circle cx="344.14" cy="1969.13" r="9.3"/><circle cx="381.22" cy="2023.67" r="9.3"/><circle cx="418.3" cy="2185.97" r="9.3"/><circle cx="455.38" cy="2245.31" r="9.3"/><circle cx="492.46" cy="2285.88" r="9.3"/><circle cx="529.54" cy="2291.99" r="9.3"/><circle cx="566.62" cy="2293.3" r="9.3"/><circle cx="603.7" cy="2293.3" r="9.3"/><circle cx="640.78" cy="2293.3" r="9.3"/><circle cx="677.86" cy="2293.3" r="9.3"/><circle cx="714.94" cy="2293.3" r="9.3"/><circle cx="752.02" cy="2293.3" r="9.3"/><circle cx="789.1" cy="2293.3" r="9.3"/><circle cx="826.18" cy="2293.3" r="9.3"/><circle cx="863.26" cy="2293.3" r="9.3"/><circle cx="900.34" cy="2293.3" r="9.3"/><circle cx="937.42" cy="2293.3" r="9.3"/><circle cx="974.5" cy="2293.3" r="9.3"/></g>
<polyline points="232.9,1866.6 269.98,1877.07 307.06,1888.85 344.14,1908.05 381.22,1938.15 418.3,1987.45 455.38,2093.91 492.46,2186.84 529.54,2278.9 566.62,2285.88 603.7,2293.3 640.78,2293.3 677.86,2293.3 714.94,2293.3 752.02,2293.3 789.1,2293.3 826.18,2293.3 863.26,2293.3 900.34,2293.3 937.42,2293.3 974.5,2293.3" fill="none" stroke="#DAA520" stroke-width="3.1" stroke-linejoin="round"/>
<g fill="#DAA520"><circle cx="232.9" cy="1866.6" r="9.3"/><circle cx="269.98" cy="1877.07" r="9.3"/><circle cx="307.06" cy="1888.85" r="9.3"/><circle cx="344.14" cy="1908.05" r="9.3"/><circle cx="381.22" cy="1938.15" r="9.3"/><circle cx="418.3" cy="1987.45" r="9.3"/><circle cx="455.38" cy="2093.91" r="9.3"/><circle cx="492.46" cy="2186.84" r="9.3"/><circle cx="529.54" cy="2278.9" r="9.3"/><circle cx="566.62" cy="2285.88" r="9.3"/><circle cx="603.7" cy="2293.3" r="9.3"/><circle cx="640.78" cy="2293.3" r="9.3"/><circle cx="677.86" cy="2293.3" r="9.3"/><circle cx="714.94" cy="2293.3" r="9.3"/><circle cx="752.02" cy="2293.3" r="9.3"/><circle cx="789.1" cy="2293.3" r="9.3"/><circle cx="826.18" cy="2293.3" r="9.3"/><circle cx="863.26" cy="2293.3" r="9.3"/><circle cx="900.34" cy="2293.3" r="9.3"/><circle cx="937.42" cy="2293.3" r="9.3"/><circle cx="974.5" cy="2293.3" r="9.3"/></g>
<polyline points="232.9,1861.36 269.98,1866.16 307.06,1861.36 344.14,1871.83 381.22,1870.09 418.3,1874.02 455.38,1881.87 492.46,1881 529.54,1889.72 566.62,1941.64 603.7,2068.61 640.78,2165.46 677.86,2247.92 714.94,2293.3 752.02,2293.3 789.1,2293.3 826.18,2293.3 863.26,2293.3 900.34,2293.3 937.42,2293.3 974.5,2293.3" fill="none" stroke="#9370DB" stroke-width="3.1" stroke-linejoin="round"/>
<g fill="#9370DB"><circle cx="232.9" cy="1861.36" r="9.3"/><circle cx="269.98" cy="1866.16" r="9.3"/><circle cx="307.06" cy="1861.36" r="9.3"/><circle cx="344.14" cy="1871.83" r="9.3"/><circle cx="381.22" cy="1870.09" r="9.3"/><circle cx="418.3" cy="1874.02" r="9.3"/><circle cx="455.38" cy="1881.87" r="9.3"/><circle cx="492.46" cy="1881" r="9.3"/><circle cx="529.54" cy="1889.72" r="9.3"/><circle cx="566.62" cy="1941.64" r="9.3"/><circle cx="603.7" cy="2068.61" r="9.3"/><circle cx="640.78" cy="2165.46" r="9.3"/><circle cx="677.86" cy="2247.92" r="9.3"/><circle cx="714.94" cy="2293.3" r="9.3"/><circle cx="752.02" cy="2293.3" r="9.3"/><circle cx="789.1" cy="2293.3" r="9.3"/><circle cx="826.18" cy="2293.3" r="9.3"/><circle cx="863.26" cy="2293.3" r="9.3"/><circle cx="900.34" cy="2293.3" r="9.3"/><circle cx="937.42" cy="2293.3" r="9.3"/><circle cx="974.5" cy="2293.3" r="9.3"/></g>
<polyline points="232.9,1863.54 269.98,1863.11 307.06,1864.85 344.14,1862.67 381.22,1863.11 418.3,1863.98 455.38,1865.29 492.46,1864.85 529.54,1866.6 566.62,1869 603.7,1872.27 640.78,1878.82 677.86,1940.77 714.94,2116.16 752.02,2257.09 789.1,2293.3 826.18,2293.3 863.26,2293.3 900.34,2293.3 937.42,2293.3 974.5,2293.3" fill="none" stroke="#808080" stroke-width="3.1" stroke-linejoin="round"/>
<g fill="#808080"><circle cx="232.9" cy="1863.54" r="9.3"/><circle cx="269.98" cy="1863.11" r="9.3"/><circle cx="307.06" cy="1864.85" r="9.3"/><circle cx="344.14" cy="1862.67" r="9.3"/><circle cx="381.22" cy="1863.11" r="9.3"/><circle cx="418.3" cy="1863.98" r="9.3"/><circle cx="455.38" cy="1865.29" r="9.3"/><circle cx="492.46" cy="1864.85" r="9.3"/><circle cx="529.54" cy="1866.6" r="9.3"/><circle cx="566.62" cy="1869" r="9.3"/><circle cx="603.7" cy="1872.27" r="9.3"/><circle cx="640.78" cy="1878.82" r="9.3"/><circle cx="677.86" cy="1940.77" r="9.3"/><circle cx="714.94" cy="2116.16" r="9.3"/><circle cx="752.02" cy="2257.09" r="9.3"/><circle cx="789.1" cy="2293.3" r="9.3"/><circle cx="826.18" cy="2293.3" r="9.3"/><circle cx="863.26" cy="2293.3" r="9.3"/><circle cx="900.34" cy="2293.3" r="9.3"/><circle cx="937.42" cy="2293.3" r="9.3"/><circle cx="974.5" cy="2293.3" r="9.3"/></g>
<circle cx="418.3" cy="2292.43" r="9.3" fill="#F08080"/>
<circle cx="418.3" cy="2293.3" r="9.3" fill="#00BFFF"/>
<circle cx="418.3" cy="2185.97" r="9.3" fill="#32CD32"/>
<circle cx="418.3" cy="1987.45" r="9.3" fill="#DAA520"/>
<circle cx="418.3" cy="1874.02" r="9.3" fill="#9370DB"/>
<circle cx="418.3" cy="1863.98" r="9.3" fill="#808080"/>
<circle cx="455.38" cy="2292.43" r="9.3" fill="#F08080"/>
<circle cx="455.38" cy="2293.3" r="9.3" fill="#00BFFF"/>
<circle cx="455.38" cy="2245.31" r="9.3" fill="#32CD32"/>
<circle cx="455.38" cy="2093.91" r="9.3" fill="#DAA520"/>
<circle cx="455.38" cy="1881.87" r="9.3" fill="#9370DB"/>
<circle cx="455.38" cy="1865.29" r="9.3" fill="#808080"/>
<circle cx="603.7" cy="2292.43" r="9.3" fill="#F08080"/>
<circle cx="603.7" cy="2293.3" r="9.3" fill="#DAA520"/>
<circle cx="603.7" cy="2068.61" r="9.3" fill="#9370DB"/>
<circle cx="603.7" cy="1872.27" r="9.3" fill="#808080"/>
<circle cx="640.78" cy="2292.43" r="9.3" fill="#32CD32"/>
<circle cx="640.78" cy="2293.3" r="9.3" fill="#DAA520"/>
<circle cx="640.78" cy="2165.46" r="9.3" fill="#9370DB"/>
<circle cx="640.78" cy="1878.82" r="9.3" fill="#808080"/>
<circle cx="677.86" cy="2293.3" r="9.3" fill="#DAA520"/>
<circle cx="677.86" cy="2247.92" r="9.3" fill="#9370DB"/>
<circle cx="677.86" cy="1940.77" r="9.3" fill="#808080"/>
<circle cx="714.94" cy="2292.43" r="9.3" fill="#F08080"/>
<circle cx="714.94" cy="2293.3" r="9.3" fill="#DAA520"/>
<circle cx="714.94" cy="2116.16" r="9.3" fill="#808080"/>
<circle cx="752.02" cy="2293.3" r="9.3" fill="#00BFFF"/>
<circle cx="752.02" cy="2257.09" r="9.3" fill="#808080"/>
<circle cx="789.1" cy="2292.43" r="9.3" fill="#F08080"/>
<circle cx="789.1" cy="2293.3" r="9.3" fill="#DAA520"/>
<circle cx="826.18" cy="2292.43" r="9.3" fill="#DAA520"/>
<circle cx="826.18" cy="2293.3" r="9.3" fill="#808080"/>
<circle cx="863.26" cy="2293.3" r="9.3" fill="#808080"/>
<circle cx="900.34" cy="2292.43" r="9.3" fill="#00BFFF"/>
<circle cx="900.34" cy="2293.3" r="9.3" fill="#808080"/>
<circle cx="937.42" cy="2293.3" r="9.3" fill="#9370DB"/>
<circle cx="974.5" cy="2292.43" r="9.3" fill="#9370DB"/>
<circle cx="974.5" cy="2293.3" r="9.3" fill="#808080"/>
</g>
<path d="M232.9 2293.3v-25.5M232.9 1857v25.5M232.9 2293.3h25.5M974.5 2293.3h-25.5M381.22 2293.3v-25.5M381.22 1857v25.5M232.9 2206.04h25.5M974.5 2206.04h-25.5M529.54 2293.3v-25.5M529.54 1857v25.5M232.9 2118.78h25.5M974.5 2118.78h-25.5M677.86 2293.3v-25.5M677.86 1857v25.5M232.9 2031.52h25.5M974.5 2031.52h-25.5M826.18 2293.3v-25.5M826.18 1857v25.5M232.9 1944.26h25.5M974.5 1944.26h-25.5M974.5 2293.3v-25.5M974.5 1857v25.5M232.9 1857h25.5M974.5 1857h-25.5" stroke="#000" stroke-width="1.7" fill="none"/>
<path d="M269.98 2293.3v-12.5M269.98 1857v12.5M232.9 2271.49h12.5M974.5 2271.49h-12.5M307.06 2293.3v-12.5M307.06 1857v12.5M232.9 2249.67h12.5M974.5 2249.67h-12.5M344.14 2293.3v-12.5M344.14 1857v12.5M232.9 2227.86h12.5M974.5 2227.86h-12.5M418.3 2293.3v-12.5M418.3 1857v12.5M232.9 2184.23h12.5M974.5 2184.23h-12.5M455.38 2293.3v-12.5M455.38 1857v12.5M232.9 2162.41h12.5M974.5 2162.41h-12.5M492.46 2293.3v-12.5M492.46 1857v12.5M232.9 2140.6h12.5M974.5 2140.6h-12.5M566.62 2293.3v-12.5M566.62 1857v12.5M232.9 2096.97h12.5M974.5 2096.97h-12.5M603.7 2293.3v-12.5M603.7 1857v12.5M232.9 2075.15h12.5M974.5 2075.15h-12.5M640.78 2293.3v-12.5M640.78 1857v12.5M232.9 2053.34h12.5M974.5 2053.34h-12.5M714.94 2293.3v-12.5M714.94 1857v12.5M232.9 2009.71h12.5M974.5 2009.71h-12.5M752.02 2293.3v-12.5M752.02 1857v12.5M232.9 1987.89h12.5M974.5 1987.89h-12.5M789.1 2293.3v-12.5M789.1 1857v12.5M232.9 1966.08h12.5M974.5 1966.08h-12.5M863.26 2293.3v-12.5M863.26 1857v12.5M232.9 1922.45h12.5M974.5 1922.45h-12.5M900.34 2293.3v-12.5M900.34 1857v12.5M232.9 1900.63h12.5M974.5 1900.63h-12.5M937.42 2293.3v-12.5M937.42 1857v12.5M232.9 1878.82h12.5M974.5 1878.82h-12.5" stroke="#000" stroke-width="1.25" fill="none"/>
<g clip-path="url(#c3)">
<path d="M232.9 1987.45V1938.15M269.98 2285.88V2247.92M307.06 2293.3V2287.19M381.22 2293.3V2288.06" stroke="#F08080" stroke-width="2.6" fill="none"/>
<path d="M222.1 1938.15H243.7M222.1 1987.45H243.7M259.18 2247.92H280.78M259.18 2285.88H280.78M296.26 2287.19H317.86M296.26 2293.3H317.86M370.42 2288.06H392.02M370.42 2293.3H392.02" stroke="#F08080" stroke-width="2.2" fill="none"/>
<path d="M269.98 1995.31V1950.37M307.06 2080.39V2015.81M344.14 2186.41V2118.34M381.22 2285.88V2249.67" stroke="#00BFFF" stroke-width="2.6" fill="none"/>
<path d="M259.18 1950.37H280.78M259.18 1995.31H280.78M296.26 2015.81H317.86M296.26 2080.39H317.86M333.34 2118.34H354.94M333.34 2186.41H354.94M370.42 2249.67H392.02M370.42 2285.88H392.02" stroke="#00BFFF" stroke-width="2.2" fill="none"/>
<path d="M269.98 1927.24V1897.14M307.06 1949.06V1909.79M344.14 1994.87V1943.82M381.22 2055.95V1991.38M418.3 2217.82V2152.81M455.38 2271.05V2220.44M492.46 2293.3V2280.65" stroke="#32CD32" stroke-width="2.6" fill="none"/>
<path d="M259.18 1897.14H280.78M259.18 1927.24H280.78M296.26 1909.79H317.86M296.26 1949.06H317.86M333.34 1943.82H354.94M333.34 1994.87H354.94M370.42 1991.38H392.02M370.42 2055.95H392.02M407.5 2152.81H429.1M407.5 2217.82H429.1M444.58 2220.44H466.18M444.58 2271.05H466.18M481.66 2280.65H503.26M481.66 2293.3H503.26" stroke="#32CD32" stroke-width="2.2" fill="none"/>
<path d="M269.98 1884.92V1869.22M307.06 1894.96V1881.43M344.14 1919.83V1895.83M381.22 1961.71V1914.16M418.3 2017.99V1956.91M455.38 2130.56V2058.13M492.46 2219.13V2154.12M529.54 2293.3V2265.38M566.62 2293.3V2278.9" stroke="#DAA520" stroke-width="2.6" fill="none"/>
<path d="M259.18 1869.22H280.78M259.18 1884.92H280.78M296.26 1881.43H317.86M296.26 1894.96H317.86M333.34 1895.83H354.94M333.34 1919.83H354.94M370.42 1914.16H392.02M370.42 1961.71H392.02M407.5 1956.91H429.1M407.5 2017.99H429.1M444.58 2058.13H466.18M444.58 2130.56H466.18M481.66 2154.12H503.26M481.66 2219.13H503.26M518.74 2265.38H540.34M518.74 2293.3H540.34M555.82 2278.9H577.42M555.82 2293.3H577.42" stroke="#DAA520" stroke-width="2.2" fill="none"/>
<path d="M269.98 1870.09V1862.24M344.14 1875.32V1867.91M455.38 1888.41V1875.32M492.46 1887.54V1874.45M529.54 1900.19V1879.69M566.62 1968.69V1914.16M603.7 2107.87V2029.77M640.78 2202.55V2128.38M677.86 2273.23V2223.06" stroke="#9370DB" stroke-width="2.6" fill="none"/>
<path d="M259.18 1862.24H280.78M259.18 1870.09H280.78M333.34 1867.91H354.94M333.34 1875.32H354.94M444.58 1875.32H466.18M444.58 1888.41H466.18M481.66 1874.45H503.26M481.66 1887.54H503.26M518.74 1879.69H540.34M518.74 1900.19H540.34M555.82 1914.16H577.42M555.82 1968.69H577.42M592.9 2029.77H614.5M592.9 2107.87H614.5M629.98 2128.38H651.58M629.98 2202.55H651.58M667.06 2223.06H688.66M667.06 2273.23H688.66" stroke="#9370DB" stroke-width="2.2" fill="none"/>
<path d="M640.78 1889.29V1868.34M677.86 1970V1911.97M714.94 2154.56V2078.64M752.02 2280.65V2232.65" stroke="#808080" stroke-width="2.6" fill="none"/>
<path d="M629.98 1868.34H651.58M629.98 1889.29H651.58M667.06 1911.97H688.66M667.06 1970H688.66M704.14 2078.64H725.74M704.14 2154.56H725.74M741.22 2232.65H762.82M741.22 2280.65H762.82" stroke="#808080" stroke-width="2.2" fill="none"/>
<path d="M444.58 2290.68H466.18" stroke="#00BFFF" stroke-width="2.2"/>
<path d="M592.9 2290.68H614.5" stroke="#F08080" stroke-width="2.2"/>
<path d="M629.98 2290.68H651.58" stroke="#32CD32" stroke-width="2.2"/>
<path d="M667.06 2290.68H688.66" stroke="#32CD32" stroke-width="2.2"/>
<path d="M704.14 2290.68H725.74" stroke="#DAA520" stroke-width="2.2"/>
<path d="M741.22 2290.68H762.82" stroke="#00BFFF" stroke-width="2.2"/>
<path d="M778.3 2290.68H799.9" stroke="#DAA520" stroke-width="2.2"/>
<path d="M815.38 2290.68H836.98" stroke="#32CD32" stroke-width="2.2"/>
<path d="M852.46 2290.68H874.06" stroke="#DAA520" stroke-width="2.2"/>
<path d="M889.54 2290.68H911.14" stroke="#F08080" stroke-width="2.2"/>
<path d="M926.62 2290.68H948.22" stroke="#32CD32" stroke-width="2.2"/>
</g>
<rect x="232.9" y="1857" width="741.6" height="436.3" fill="none" stroke="#000" stroke-width="1.7"/>
<g font-family="Liberation Serif"><text x="232.9" y="2344.5" text-anchor="middle" font-size="46">0</text><text x="212.2" y="2309" text-anchor="end" font-size="41">0</text><text x="381.22" y="2344.5" text-anchor="middle" font-size="46">0.2</text><text x="212.2" y="2221.74" text-anchor="end" font-size="41">0.2</text><text x="529.54" y="2344.5" text-anchor="middle" font-size="46">0.4</text><text x="212.2" y="2134.48" text-anchor="end" font-size="41">0.4</text><text x="677.86" y="2344.5" text-anchor="middle" font-size="46">0.6</text><text x="212.2" y="2047.22" text-anchor="end" font-size="41">0.6</text><text x="826.18" y="2344.5" text-anchor="middle" font-size="46">0.8</text><text x="212.2" y="1959.96" text-anchor="end" font-size="41">0.8</text><text x="974.5" y="2344.5" text-anchor="middle" font-size="46">1.0</text><text x="212.2" y="1872.7" text-anchor="end" font-size="41">1.0</text></g>
<text x="84" y="1845" font-family="Liberation Serif" font-size="53">(d)</text>
<text x="479.3" y="1843.5" font-family="Liberation Serif" font-size="42" font-style="italic">&#x3F5;</text>
<text x="496.1" y="1850.6" font-family="Liberation Serif" font-size="30" font-style="italic" textLength="107" lengthAdjust="spacingAndGlyphs">between</text>
<path d="M614.1 1828.05H643.05M614.1 1836H643.05" stroke="#000" stroke-width="2.1"/>
<text x="651.9" y="1843.5" font-family="Liberation Serif" font-size="44.5" stroke="#000" stroke-width="0.6">10.0</text>
<circle cx="758.3" cy="100.5" r="9.6" fill="#F08080"/><text x="829.3" y="109.9" font-family="Liberation Serif" font-size="40" font-style="italic" textLength="29.2" lengthAdjust="spacingAndGlyphs">R</text><path d="M866.2 95.8H892.2M866.2 103.5H892.2" stroke="#000" stroke-width="2.1"/><text x="900.2" y="109.9" font-family="Liberation Serif" font-size="40.5">2</text><circle cx="758.3" cy="155.14" r="9.6" fill="#00BFFF"/><text x="829.3" y="164.54" font-family="Liberation Serif" font-size="40" font-style="italic" textLength="29.2" lengthAdjust="spacingAndGlyphs">R</text><path d="M866.2 150.44H892.2M866.2 158.14H892.2" stroke="#000" stroke-width="2.1"/><text x="900.2" y="164.54" font-family="Liberation Serif" font-size="40.5">3</text><circle cx="758.3" cy="209.78" r="9.6" fill="#32CD32"/><text x="829.3" y="219.18" font-family="Liberation Serif" font-size="40" font-style="italic" textLength="29.2" lengthAdjust="spacingAndGlyphs">R</text><path d="M866.2 205.08H892.2M866.2 212.78H892.2" stroke="#000" stroke-width="2.1"/><text x="900.2" y="219.18" font-family="Liberation Serif" font-size="40.5">4</text><circle cx="758.3" cy="264.42" r="9.6" fill="#DAA520"/><text x="829.3" y="273.82" font-family="Liberation Serif" font-size="40" font-style="italic" textLength="29.2" lengthAdjust="spacingAndGlyphs">R</text><path d="M866.2 259.72H892.2M866.2 267.42H892.2" stroke="#000" stroke-width="2.1"/><text x="900.2" y="273.82" font-family="Liberation Serif" font-size="40.5">5</text><circle cx="758.3" cy="319.06" r="9.6" fill="#9370DB"/><text x="829.3" y="328.46" font-family="Liberation Serif" font-size="40" font-style="italic" textLength="29.2" lengthAdjust="spacingAndGlyphs">R</text><path d="M866.2 314.36H892.2M866.2 322.06H892.2" stroke="#000" stroke-width="2.1"/><text x="900.2" y="328.46" font-family="Liberation Serif" font-size="40.5">10</text><circle cx="758.3" cy="373.7" r="9.6" fill="#808080"/><text x="829.3" y="383.1" font-family="Liberation Serif" font-size="40" font-style="italic" textLength="29.2" lengthAdjust="spacingAndGlyphs">R</text><path d="M866.2 369H892.2M866.2 376.7H892.2" stroke="#000" stroke-width="2.1"/><text x="900.2" y="383.1" font-family="Liberation Serif" font-size="40.5">20</text>
<g transform="translate(32.7,1378) rotate(-90)" font-family="Liberation Serif"><text x="0" y="0" font-size="46" font-style="italic" textLength="95.3" lengthAdjust="spacingAndGlyphs">NMI</text><text x="94.8" y="7.3" font-size="30" font-style="italic" textLength="109.5" lengthAdjust="spacingAndGlyphs">rescaled</text><text x="208.3" y="0" font-size="48" font-style="normal">(</text><g transform="translate(0,1.2)" fill="none" stroke="#000" stroke-linecap="round"><path d="M224.8,-22.3C226.3,-27.3 229.8,-29.9 236.5,-30C246.5,-30.1 253.6,-26.2 253.8,-20.2C254,-14.3 249,-10.6 237.2,-10.2" stroke-width="2.7"/><path d="M237,-28.6C235.2,-19 232.3,-8 228.6,1.2" stroke-width="3.4"/></g><text x="253" y="0" font-size="45" font-style="normal">,</text><g transform="translate(49.2,1.2)" fill="none" stroke="#000" stroke-linecap="round"><path d="M224.8,-22.3C226.3,-27.3 229.8,-29.9 236.5,-30C246.5,-30.1 253.6,-26.2 253.8,-20.2C254,-14.3 249,-10.6 237.2,-10.2" stroke-width="2.7"/><path d="M237,-28.6C235.2,-19 232.3,-8 228.6,1.2" stroke-width="3.4"/></g><text x="305.9" y="7.3" font-size="30" font-style="italic" textLength="97.7" lengthAdjust="spacingAndGlyphs">planted</text><text x="407" y="0" font-size="48" font-style="normal">)</text></g>
<text x="369.1" y="2417.3" font-family="Liberation Serif" font-size="45" textLength="349.7" lengthAdjust="spacingAndGlyphs">Within-cluster noise</text>
<text x="729.8" y="2417.1" font-family="Liberation Serif" font-size="44" font-style="italic">&#x3F5;</text>
<text x="745.9" y="2422" font-family="Liberation Serif" font-size="29" font-style="italic" textLength="88.99" lengthAdjust="spacingAndGlyphs">within</text>
</svg></body></html>
